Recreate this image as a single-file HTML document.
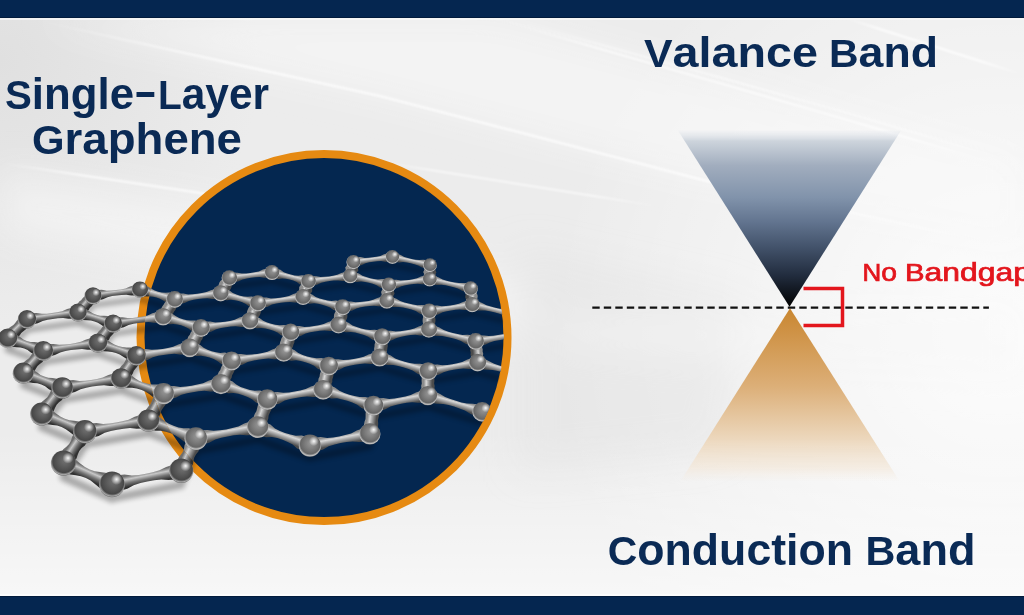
<!DOCTYPE html>
<html><head><meta charset="utf-8"><style>
html,body{margin:0;padding:0;}
body{width:1024px;height:615px;overflow:hidden;position:relative;background:#eeeeee;font-family:"Liberation Sans",sans-serif;}
svg{position:absolute;left:0;top:0;}
</style></head><body>
<svg width="1024" height="615" viewBox="0 0 1024 615">
<defs>
<linearGradient id="bg" x1="0" y1="0" x2="0" y2="1">
<stop offset="0" stop-color="#e8e8e8"/><stop offset="0.5" stop-color="#ebebeb"/><stop offset="1" stop-color="#f3f3f3"/>
</linearGradient>
<radialGradient id="atom" cx="0.5" cy="0.45" r="0.55" fx="0.58" fy="0.38">
<stop offset="0" stop-color="#9a9a9a"/><stop offset="0.5" stop-color="#7a7a7a"/><stop offset="0.8" stop-color="#666"/><stop offset="0.93" stop-color="#c0c0c0"/><stop offset="1" stop-color="#909090"/>
</radialGradient>
<radialGradient id="atomd" cx="0.5" cy="0.45" r="0.55" fx="0.58" fy="0.38">
<stop offset="0" stop-color="#747474"/><stop offset="0.5" stop-color="#585858"/><stop offset="0.8" stop-color="#474747"/><stop offset="0.93" stop-color="#a8a8a8"/><stop offset="1" stop-color="#6a6a6a"/>
</radialGradient>
<radialGradient id="hl" cx="0.68" cy="0.3" r="0.22">
<stop offset="0" stop-color="#fff" stop-opacity="0.95"/><stop offset="1" stop-color="#fff" stop-opacity="0"/>
</radialGradient>
<linearGradient id="vcone" x1="0" y1="0" x2="0" y2="1">
<stop offset="0" stop-color="#e4e8ee" stop-opacity="0.2"/><stop offset="0.06" stop-color="#cdd4dc"/><stop offset="0.2" stop-color="#a1adbe"/><stop offset="0.38" stop-color="#8193ab"/><stop offset="0.52" stop-color="#62748f"/><stop offset="0.66" stop-color="#43536b"/><stop offset="0.82" stop-color="#222d3f"/><stop offset="0.95" stop-color="#0a0d12"/><stop offset="1" stop-color="#000"/>
</linearGradient>
<linearGradient id="ccone" x1="0" y1="0" x2="0" y2="1">
<stop offset="0" stop-color="#c98630"/><stop offset="0.45" stop-color="#dcaf78"/><stop offset="0.75" stop-color="#ecd7bc"/><stop offset="0.92" stop-color="#f3e8da" stop-opacity="0.7"/><stop offset="1" stop-color="#f6eee4" stop-opacity="0"/>
</linearGradient>
<radialGradient id="wr" gradientUnits="userSpaceOnUse" cx="1000" cy="330" r="450"><stop offset="0" stop-color="#fff" stop-opacity="0.9"/><stop offset="1" stop-color="#fff" stop-opacity="0"/></radialGradient>
<linearGradient id="wb" gradientUnits="userSpaceOnUse" x1="0" y1="430" x2="0" y2="596"><stop offset="0" stop-color="#fff" stop-opacity="0"/><stop offset="1" stop-color="#fff" stop-opacity="0.6"/></linearGradient>
<radialGradient id="gl" gradientUnits="userSpaceOnUse" cx="0" cy="60" r="260"><stop offset="0" stop-color="#d8d8d8" stop-opacity="0.6"/><stop offset="1" stop-color="#d8d8d8" stop-opacity="0"/></radialGradient>
<linearGradient id="fadeL" x1="0" y1="0" x2="1" y2="0"><stop offset="0" stop-color="#fff" stop-opacity="0"/><stop offset="0.2" stop-color="#fff" stop-opacity="0.85"/><stop offset="0.75" stop-color="#fff" stop-opacity="0.85"/><stop offset="1" stop-color="#fff" stop-opacity="0"/></linearGradient>
<filter id="bgblur" x="-10%" y="-10%" width="120%" height="120%"><feGaussianBlur stdDeviation="18"/></filter><filter id="lblur"><feGaussianBlur stdDeviation="1.2"/></filter>
<filter id="blur" x="-20%" y="-20%" width="140%" height="140%"><feGaussianBlur stdDeviation="2.5"/></filter>
<clipPath id="lclip"><circle cx="324" cy="337.6" r="180.0"/><rect x="0" y="0" width="250" height="615"/></clipPath>
<clipPath id="rclip"><rect x="0" y="0" width="250" height="615"/></clipPath>
<clipPath id="inclip"><circle cx="324" cy="337.6" r="180.0"/></clipPath>
<clipPath id="outclip"><path clip-rule="evenodd" d="M0,0H1024V615H0Z M144.0,337.6 a180.0,180.0 0 1,0 360.0,0 a180.0,180.0 0 1,0 -360.0,0Z"/></clipPath>
</defs>
<rect width="1024" height="615" fill="#ececec"/>
<rect width="1024" height="615" fill="url(#wr)"/>
<rect width="1024" height="615" fill="url(#wb)"/>
<rect width="1024" height="615" fill="url(#gl)"/>
<g filter="url(#bgblur)">
<polygon points="150,18 493,18 1024,160 1024,250 707,181 380,96 35,20" fill="#fafafa" opacity="0.55"/>
<polygon points="0,170 200,200 430,245 560,300 540,340 0,235" fill="#f7f7f7" opacity="0.6"/>
<polygon points="520,250 740,300 720,450 520,470" fill="#e2e2e2" opacity="0.45"/>
<polygon points="560,320 1024,300 1024,380 560,345" fill="#f8f8f8" opacity="0.5"/>
</g>
<g fill="none" filter="url(#lblur)">
<polyline points="35,20 380,96 707,181 1024,250" stroke="url(#fadeL)" stroke-width="2.2"/>
<polyline points="493,18 820,112 1024,172" stroke="url(#fadeL)" stroke-width="1.6"/>
<polyline points="505,18 830,108 1024,165" stroke="url(#fadeL)" stroke-width="1.2"/>
<polyline points="845,18 1024,75" stroke="url(#fadeL)" stroke-width="2"/>
<polyline points="0,163 200,193 430,240" stroke="url(#fadeL)" stroke-width="2"/>
<polyline points="380,162 663,207" stroke="url(#fadeL)" stroke-width="1.5"/>
</g>
<rect x="0" y="0" width="1024" height="18" fill="#052650"/><rect x="0" y="17" width="1024" height="1" fill="#021b3c"/><rect x="0" y="18" width="1024" height="2" fill="#fafafa" opacity="0.7"/>
<rect x="0" y="596" width="1024" height="19" fill="#052650"/><rect x="0" y="596" width="1024" height="1" fill="#021b3c"/><rect x="0" y="594" width="1024" height="2" fill="#fcfcfc" opacity="0.8"/>
<text x="5.00" y="109.3" font-family="Liberation Sans" font-weight="bold" font-size="40" fill="#0a2a55" textLength="129.00" lengthAdjust="spacingAndGlyphs">S<tspan font-size="43.60">ingle</tspan></text>
<text x="158.00" y="109.3" font-family="Liberation Sans" font-weight="bold" font-size="40" fill="#0a2a55" textLength="111.00" lengthAdjust="spacingAndGlyphs">L<tspan font-size="43.60">ayer</tspan></text>
<text x="32.00" y="154.0" font-family="Liberation Sans" font-weight="bold" font-size="40" fill="#0a2a55" textLength="210.00" lengthAdjust="spacingAndGlyphs">G<tspan font-size="43.60">raphene</tspan></text>
<text x="644.00" y="67.2" font-family="Liberation Sans" font-weight="bold" font-size="39" fill="#0a2a55" textLength="174.00" lengthAdjust="spacingAndGlyphs">V<tspan font-size="42.51">alance</tspan></text>
<text x="829.00" y="67.2" font-family="Liberation Sans" font-weight="bold" font-size="39" fill="#0a2a55" textLength="109.00" lengthAdjust="spacingAndGlyphs">B<tspan font-size="42.51">and</tspan></text>
<text x="607.75" y="565.3" font-family="Liberation Sans" font-weight="bold" font-size="40" fill="#0a2a55" textLength="245.25" lengthAdjust="spacingAndGlyphs">C<tspan font-size="43.60">onduction</tspan></text>
<text x="865.50" y="565.3" font-family="Liberation Sans" font-weight="bold" font-size="40" fill="#0a2a55" textLength="110.00" lengthAdjust="spacingAndGlyphs">B<tspan font-size="43.60">and</tspan></text>
<text x="862.50" y="280.7" font-family="Liberation Sans" font-size="23" fill="#e3161d" stroke="#e3161d" stroke-width="0.7" textLength="34.50" lengthAdjust="spacingAndGlyphs">N<tspan font-size="25.07">o</tspan></text>
<text x="905.00" y="280.7" font-family="Liberation Sans" font-size="23" fill="#e3161d" stroke="#e3161d" stroke-width="0.7" textLength="126.00" lengthAdjust="spacingAndGlyphs">B<tspan font-size="25.07">andgap</tspan></text>
<rect x="136.5" y="92" width="17.8" height="5" fill="#0a2a55"/>
<circle cx="324" cy="337.6" r="183.5" fill="#042750" stroke="#e68a12" stroke-width="8"/>
<g clip-path="url(#inclip)">
<g stroke="#000" stroke-linecap="round" opacity="0.3" filter="url(#blur)"><line x1="373.5" y1="416.7" x2="427.8" y2="406.7" stroke-width="6.1"/><line x1="373.5" y1="416.9" x2="323.1" y2="401.0" stroke-width="6.2"/><line x1="373.5" y1="417.3" x2="369.9" y2="445.5" stroke-width="6.4"/><line x1="308.4" y1="290.3" x2="303.0" y2="305.8" stroke-width="4.8"/><line x1="308.4" y1="290.1" x2="272.0" y2="281.1" stroke-width="4.7"/><line x1="308.4" y1="290.0" x2="350.2" y2="284.4" stroke-width="4.6"/><line x1="382.2" y1="346.3" x2="428.9" y2="338.9" stroke-width="5.2"/><line x1="382.2" y1="346.8" x2="379.6" y2="367.4" stroke-width="5.4"/><line x1="382.2" y1="346.5" x2="338.5" y2="334.7" stroke-width="5.3"/><line x1="303.0" y1="306.2" x2="257.9" y2="312.5" stroke-width="5.0"/><line x1="303.0" y1="306.1" x2="342.7" y2="316.3" stroke-width="5.0"/><line x1="482.2" y1="422.7" x2="427.8" y2="406.5" stroke-width="6.0"/><line x1="267.3" y1="411.1" x2="220.9" y2="395.6" stroke-width="6.3"/><line x1="267.3" y1="411.0" x2="323.1" y2="401.2" stroke-width="6.2"/><line x1="267.3" y1="411.6" x2="257.7" y2="439.1" stroke-width="6.6"/><line x1="272.0" y1="281.2" x2="229.4" y2="286.7" stroke-width="4.7"/><line x1="113.1" y1="334.2" x2="97.8" y2="353.6" stroke-width="5.8"/><line x1="113.1" y1="333.7" x2="163.1" y2="326.8" stroke-width="5.5"/><line x1="113.1" y1="333.8" x2="77.9" y2="322.8" stroke-width="5.6"/><line x1="388.8" y1="293.4" x2="350.2" y2="284.3" stroke-width="4.6"/><line x1="388.8" y1="293.3" x2="429.7" y2="287.6" stroke-width="4.5"/><line x1="388.8" y1="293.6" x2="386.8" y2="309.4" stroke-width="4.7"/><line x1="93.0" y1="305.2" x2="139.9" y2="299.2" stroke-width="5.2"/><line x1="93.0" y1="305.6" x2="77.9" y2="322.4" stroke-width="5.4"/><line x1="220.9" y1="395.2" x2="231.5" y2="372.0" stroke-width="6.1"/><line x1="220.9" y1="395.8" x2="163.6" y2="405.3" stroke-width="6.4"/><line x1="353.5" y1="270.2" x2="350.2" y2="284.1" stroke-width="4.5"/><line x1="353.5" y1="269.9" x2="392.4" y2="264.9" stroke-width="4.3"/><line x1="328.8" y1="376.4" x2="379.6" y2="367.9" stroke-width="5.7"/><line x1="328.8" y1="376.9" x2="323.1" y2="400.6" stroke-width="5.9"/><line x1="328.8" y1="376.5" x2="283.7" y2="363.1" stroke-width="5.7"/><line x1="470.7" y1="297.0" x2="472.2" y2="313.1" stroke-width="4.6"/><line x1="470.7" y1="296.8" x2="429.7" y2="287.5" stroke-width="4.5"/><line x1="97.8" y1="354.1" x2="43.3" y2="362.0" stroke-width="6.1"/><line x1="97.8" y1="354.0" x2="136.4" y2="366.8" stroke-width="6.0"/><line x1="43.3" y1="362.6" x2="23.3" y2="384.7" stroke-width="6.4"/><line x1="43.3" y1="362.2" x2="7.7" y2="349.6" stroke-width="6.1"/><line x1="174.7" y1="309.2" x2="163.1" y2="326.3" stroke-width="5.3"/><line x1="174.7" y1="308.9" x2="139.9" y2="299.1" stroke-width="5.2"/><line x1="174.7" y1="308.8" x2="220.7" y2="302.6" stroke-width="5.1"/><line x1="231.5" y1="371.6" x2="189.7" y2="358.5" stroke-width="5.9"/><line x1="231.5" y1="371.5" x2="283.7" y2="363.2" stroke-width="5.8"/><line x1="309.9" y1="457.9" x2="369.9" y2="446.1" stroke-width="6.7"/><line x1="309.9" y1="458.0" x2="257.7" y2="439.5" stroke-width="6.8"/><line x1="521.1" y1="342.7" x2="517.3" y2="324.2" stroke-width="4.9"/><line x1="521.1" y1="343.1" x2="475.7" y2="350.7" stroke-width="5.1"/><line x1="189.7" y1="358.1" x2="201.0" y2="338.3" stroke-width="5.7"/><line x1="189.7" y1="358.6" x2="136.4" y2="366.7" stroke-width="5.9"/><line x1="477.6" y1="372.5" x2="529.8" y2="386.6" stroke-width="5.5"/><line x1="477.6" y1="372.2" x2="475.7" y2="351.1" stroke-width="5.3"/><line x1="477.6" y1="372.7" x2="428.2" y2="381.4" stroke-width="5.5"/><line x1="290.7" y1="342.2" x2="249.9" y2="330.6" stroke-width="5.4"/><line x1="290.7" y1="342.1" x2="338.5" y2="334.8" stroke-width="5.3"/><line x1="290.7" y1="342.5" x2="283.7" y2="362.7" stroke-width="5.6"/><line x1="63.5" y1="476.8" x2="84.9" y2="445.4" stroke-width="7.5"/><line x1="63.5" y1="477.4" x2="112.0" y2="498.7" stroke-width="7.8"/><line x1="472.2" y1="313.3" x2="517.3" y2="323.9" stroke-width="4.7"/><line x1="472.2" y1="313.4" x2="429.2" y2="320.0" stroke-width="4.8"/><line x1="249.9" y1="330.3" x2="257.9" y2="312.9" stroke-width="5.2"/><line x1="249.9" y1="330.7" x2="201.0" y2="337.9" stroke-width="5.4"/><line x1="428.9" y1="338.8" x2="475.7" y2="350.8" stroke-width="5.1"/><line x1="428.9" y1="338.5" x2="429.2" y2="320.3" stroke-width="5.0"/><line x1="163.1" y1="326.6" x2="201.0" y2="338.0" stroke-width="5.5"/><line x1="41.6" y1="427.2" x2="84.9" y2="444.8" stroke-width="7.2"/><line x1="41.6" y1="426.7" x2="62.3" y2="400.5" stroke-width="6.9"/><line x1="148.3" y1="433.5" x2="84.9" y2="444.6" stroke-width="7.1"/><line x1="148.3" y1="433.3" x2="195.9" y2="451.3" stroke-width="7.0"/><line x1="148.3" y1="432.8" x2="163.6" y2="406.0" stroke-width="6.7"/><line x1="427.8" y1="406.1" x2="428.2" y2="381.9" stroke-width="5.8"/><line x1="229.4" y1="287.1" x2="220.7" y2="302.3" stroke-width="4.9"/><line x1="257.9" y1="312.6" x2="220.7" y2="302.5" stroke-width="5.1"/><line x1="430.0" y1="273.0" x2="392.4" y2="264.8" stroke-width="4.3"/><line x1="430.0" y1="273.2" x2="429.7" y2="287.3" stroke-width="4.4"/><line x1="342.7" y1="316.6" x2="338.5" y2="334.4" stroke-width="5.1"/><line x1="342.7" y1="316.2" x2="386.8" y2="309.8" stroke-width="4.9"/><line x1="77.9" y1="322.8" x2="27.0" y2="329.7" stroke-width="5.7"/><line x1="27.0" y1="330.2" x2="7.7" y2="349.2" stroke-width="5.9"/><line x1="195.9" y1="451.9" x2="181.2" y2="484.1" stroke-width="7.3"/><line x1="195.9" y1="451.2" x2="257.7" y2="439.7" stroke-width="6.9"/><line x1="121.0" y1="390.5" x2="62.3" y2="399.9" stroke-width="6.5"/><line x1="121.0" y1="390.4" x2="163.6" y2="405.5" stroke-width="6.5"/><line x1="121.0" y1="389.9" x2="136.4" y2="367.3" stroke-width="6.2"/><line x1="62.3" y1="400.0" x2="23.3" y2="385.2" stroke-width="6.6"/><line x1="181.2" y1="484.9" x2="112.0" y2="498.5" stroke-width="7.8"/><line x1="379.6" y1="367.8" x2="428.2" y2="381.5" stroke-width="5.6"/><line x1="429.2" y1="320.1" x2="386.8" y2="309.7" stroke-width="4.8"/></g>
<defs><linearGradient id="Lg"><stop offset="0" stop-color="#8c8c8c"/><stop offset="0.3" stop-color="#d8d8d8"/><stop offset="0.62" stop-color="#969696"/><stop offset="1" stop-color="#4c4c4c"/></linearGradient><linearGradient id="L27" gradientUnits="userSpaceOnUse" x1="372.5" y1="256.5" x2="373.3" y2="262.6" href="#Lg"/><linearGradient id="L71" gradientUnits="userSpaceOnUse" x1="411.8" y1="258.1" x2="410.5" y2="264.1" href="#Lg"/><linearGradient id="L26" gradientUnits="userSpaceOnUse" x1="348.7" y1="268.2" x2="355.0" y2="269.7" href="#Lg"/><linearGradient id="L72" gradientUnits="userSpaceOnUse" x1="426.7" y1="272.2" x2="433.0" y2="272.3" href="#Lg"/><linearGradient id="L15" gradientUnits="userSpaceOnUse" x1="250.3" y1="272.0" x2="251.1" y2="278.7" href="#Lg"/><linearGradient id="L4" gradientUnits="userSpaceOnUse" x1="291.0" y1="273.8" x2="289.4" y2="280.3" href="#Lg"/><linearGradient id="L5" gradientUnits="userSpaceOnUse" x1="328.8" y1="275.4" x2="329.7" y2="282.0" href="#Lg"/><linearGradient id="L19" gradientUnits="userSpaceOnUse" x1="370.3" y1="277.3" x2="368.7" y2="283.7" href="#Lg"/><linearGradient id="L20" gradientUnits="userSpaceOnUse" x1="408.8" y1="278.9" x2="409.7" y2="285.4" href="#Lg"/><linearGradient id="L32" gradientUnits="userSpaceOnUse" x1="450.9" y1="280.8" x2="449.5" y2="287.1" href="#Lg"/><linearGradient id="L69" gradientUnits="userSpaceOnUse" x1="222.0" y1="284.0" x2="228.1" y2="287.5" href="#Lg"/><linearGradient id="L3" gradientUnits="userSpaceOnUse" x1="302.4" y1="288.2" x2="309.0" y2="290.4" href="#Lg"/><linearGradient id="L22" gradientUnits="userSpaceOnUse" x1="116.0" y1="289.0" x2="117.0" y2="296.4" href="#Lg"/><linearGradient id="L21" gradientUnits="userSpaceOnUse" x1="384.5" y1="292.5" x2="391.2" y2="293.4" href="#Lg"/><linearGradient id="L38" gradientUnits="userSpaceOnUse" x1="158.3" y1="291.1" x2="156.3" y2="298.2" href="#Lg"/><linearGradient id="L39" gradientUnits="userSpaceOnUse" x1="197.2" y1="292.8" x2="198.2" y2="300.1" href="#Lg"/><linearGradient id="L31" gradientUnits="userSpaceOnUse" x1="474.8" y1="296.3" x2="468.2" y2="297.0" href="#Lg"/><linearGradient id="L70" gradientUnits="userSpaceOnUse" x1="240.3" y1="294.9" x2="238.4" y2="301.9" href="#Lg"/><linearGradient id="L9" gradientUnits="userSpaceOnUse" x1="280.0" y1="296.7" x2="281.0" y2="303.8" href="#Lg"/><linearGradient id="L10" gradientUnits="userSpaceOnUse" x1="323.7" y1="298.7" x2="322.0" y2="305.6" href="#Lg"/><linearGradient id="L74" gradientUnits="userSpaceOnUse" x1="364.3" y1="300.6" x2="365.3" y2="307.6" href="#Lg"/><linearGradient id="L23" gradientUnits="userSpaceOnUse" x1="82.6" y1="301.6" x2="88.4" y2="306.8" href="#Lg"/><linearGradient id="L85" gradientUnits="userSpaceOnUse" x1="408.8" y1="302.7" x2="407.2" y2="309.4" href="#Lg"/><linearGradient id="L57" gradientUnits="userSpaceOnUse" x1="450.2" y1="304.6" x2="451.2" y2="311.4" href="#Lg"/><linearGradient id="L37" gradientUnits="userSpaceOnUse" x1="165.7" y1="306.0" x2="172.0" y2="310.3" href="#Lg"/><linearGradient id="L56" gradientUnits="userSpaceOnUse" x1="495.6" y1="306.7" x2="494.0" y2="313.3" href="#Lg"/><linearGradient id="L58" gradientUnits="userSpaceOnUse" x1="250.5" y1="310.5" x2="257.3" y2="313.7" href="#Lg"/><linearGradient id="L75" gradientUnits="userSpaceOnUse" x1="51.9" y1="312.0" x2="53.0" y2="320.0" href="#Lg"/><linearGradient id="L73" gradientUnits="userSpaceOnUse" x1="337.0" y1="315.4" x2="344.2" y2="317.0" href="#Lg"/><linearGradient id="L18" gradientUnits="userSpaceOnUse" x1="96.7" y1="314.3" x2="94.3" y2="322.0" href="#Lg"/><linearGradient id="L17" gradientUnits="userSpaceOnUse" x1="137.5" y1="316.2" x2="138.6" y2="324.1" href="#Lg"/><linearGradient id="L61" gradientUnits="userSpaceOnUse" x1="425.4" y1="320.3" x2="432.6" y2="320.4" href="#Lg"/><linearGradient id="L62" gradientUnits="userSpaceOnUse" x1="183.2" y1="318.5" x2="180.9" y2="326.1" href="#Lg"/><linearGradient id="L59" gradientUnits="userSpaceOnUse" x1="224.9" y1="320.5" x2="226.0" y2="328.3" href="#Lg"/><linearGradient id="L44" gradientUnits="userSpaceOnUse" x1="522.6" y1="323.9" x2="515.8" y2="325.3" href="#Lg"/><linearGradient id="L51" gradientUnits="userSpaceOnUse" x1="271.4" y1="322.9" x2="269.3" y2="330.3" href="#Lg"/><linearGradient id="L52" gradientUnits="userSpaceOnUse" x1="314.0" y1="325.0" x2="315.2" y2="332.5" href="#Lg"/><linearGradient id="L76" gradientUnits="userSpaceOnUse" x1="14.4" y1="325.9" x2="20.3" y2="331.9" href="#Lg"/><linearGradient id="L8" gradientUnits="userSpaceOnUse" x1="361.3" y1="327.4" x2="359.4" y2="334.7" href="#Lg"/><linearGradient id="L6" gradientUnits="userSpaceOnUse" x1="405.0" y1="329.5" x2="406.1" y2="336.9" href="#Lg"/><linearGradient id="L16" gradientUnits="userSpaceOnUse" x1="102.2" y1="330.8" x2="108.7" y2="335.9" href="#Lg"/><linearGradient id="L60" gradientUnits="userSpaceOnUse" x1="453.2" y1="331.9" x2="451.4" y2="339.0" href="#Lg"/><linearGradient id="L45" gradientUnits="userSpaceOnUse" x1="497.8" y1="334.1" x2="499.0" y2="341.3" href="#Lg"/><linearGradient id="L46" gradientUnits="userSpaceOnUse" x1="191.8" y1="335.9" x2="198.9" y2="339.9" href="#Lg"/><linearGradient id="L53" gradientUnits="userSpaceOnUse" x1="283.4" y1="341.2" x2="290.9" y2="343.8" href="#Lg"/><linearGradient id="L36" gradientUnits="userSpaceOnUse" x1="27.0" y1="340.6" x2="24.0" y2="348.9" href="#Lg"/><linearGradient id="L33" gradientUnits="userSpaceOnUse" x1="69.9" y1="342.7" x2="71.2" y2="351.4" href="#Lg"/><linearGradient id="L7" gradientUnits="userSpaceOnUse" x1="377.1" y1="346.7" x2="384.8" y2="347.7" href="#Lg"/><linearGradient id="L34" gradientUnits="userSpaceOnUse" x1="118.4" y1="345.4" x2="115.7" y2="353.6" href="#Lg"/><linearGradient id="L47" gradientUnits="userSpaceOnUse" x1="162.4" y1="347.6" x2="163.7" y2="356.1" href="#Lg"/><linearGradient id="L49" gradientUnits="userSpaceOnUse" x1="480.4" y1="351.7" x2="472.9" y2="352.4" href="#Lg"/><linearGradient id="L40" gradientUnits="userSpaceOnUse" x1="211.9" y1="350.4" x2="209.4" y2="358.4" href="#Lg"/><linearGradient id="L41" gradientUnits="userSpaceOnUse" x1="256.9" y1="352.7" x2="258.2" y2="360.9" href="#Lg"/><linearGradient id="L30" gradientUnits="userSpaceOnUse" x1="307.4" y1="355.4" x2="305.0" y2="363.3" href="#Lg"/><linearGradient id="L28" gradientUnits="userSpaceOnUse" x1="353.5" y1="357.8" x2="354.9" y2="365.9" href="#Lg"/><linearGradient id="L35" gradientUnits="userSpaceOnUse" x1="29.9" y1="359.0" x2="36.7" y2="365.2" href="#Lg"/><linearGradient id="L84" gradientUnits="userSpaceOnUse" x1="405.0" y1="360.6" x2="402.8" y2="368.3" href="#Lg"/><linearGradient id="L50" gradientUnits="userSpaceOnUse" x1="452.2" y1="363.1" x2="453.6" y2="370.9" href="#Lg"/><linearGradient id="L81" gradientUnits="userSpaceOnUse" x1="125.0" y1="364.8" x2="132.4" y2="369.8" href="#Lg"/><linearGradient id="L48" gradientUnits="userSpaceOnUse" x1="504.7" y1="365.9" x2="502.7" y2="373.4" href="#Lg"/><linearGradient id="L24" gradientUnits="userSpaceOnUse" x1="222.2" y1="370.7" x2="230.2" y2="374.4" href="#Lg"/><linearGradient id="L29" gradientUnits="userSpaceOnUse" x1="321.8" y1="377.0" x2="330.1" y2="378.9" href="#Lg"/><linearGradient id="L82" gradientUnits="userSpaceOnUse" x1="44.5" y1="376.1" x2="41.1" y2="385.0" href="#Lg"/><linearGradient id="L79" gradientUnits="userSpaceOnUse" x1="90.9" y1="378.6" x2="92.4" y2="387.9" href="#Lg"/><linearGradient id="L68" gradientUnits="userSpaceOnUse" x1="423.8" y1="383.4" x2="432.1" y2="383.5" href="#Lg"/><linearGradient id="L80" gradientUnits="userSpaceOnUse" x1="143.8" y1="381.8" x2="140.7" y2="390.5" href="#Lg"/><linearGradient id="L25" gradientUnits="userSpaceOnUse" x1="191.5" y1="384.4" x2="193.0" y2="393.5" href="#Lg"/><linearGradient id="L12" gradientUnits="userSpaceOnUse" x1="245.5" y1="387.6" x2="242.7" y2="396.2" href="#Lg"/><linearGradient id="L13" gradientUnits="userSpaceOnUse" x1="294.4" y1="390.3" x2="296.0" y2="399.1" href="#Lg"/><linearGradient id="L1" gradientUnits="userSpaceOnUse" x1="349.6" y1="393.5" x2="347.0" y2="402.0" href="#Lg"/><linearGradient id="L0" gradientUnits="userSpaceOnUse" x1="399.8" y1="396.4" x2="401.4" y2="404.9" href="#Lg"/><linearGradient id="L64" gradientUnits="userSpaceOnUse" x1="48.1" y1="398.0" x2="55.8" y2="404.1" href="#Lg"/><linearGradient id="L11" gradientUnits="userSpaceOnUse" x1="456.2" y1="399.6" x2="453.8" y2="407.9" href="#Lg"/><linearGradient id="L67" gradientUnits="userSpaceOnUse" x1="151.8" y1="404.8" x2="160.2" y2="409.5" href="#Lg"/><linearGradient id="L14" gradientUnits="userSpaceOnUse" x1="258.1" y1="411.8" x2="267.0" y2="414.9" href="#Lg"/><linearGradient id="L2" gradientUnits="userSpaceOnUse" x1="367.1" y1="419.2" x2="376.2" y2="420.4" href="#Lg"/><linearGradient id="L63" gradientUnits="userSpaceOnUse" x1="65.2" y1="418.2" x2="61.3" y2="427.7" href="#Lg"/><linearGradient id="L65" gradientUnits="userSpaceOnUse" x1="115.7" y1="421.1" x2="117.5" y2="431.2" href="#Lg"/><linearGradient id="L66" gradientUnits="userSpaceOnUse" x1="173.9" y1="424.9" x2="170.4" y2="434.3" href="#Lg"/><linearGradient id="L78" gradientUnits="userSpaceOnUse" x1="225.9" y1="428.0" x2="227.7" y2="437.7" href="#Lg"/><linearGradient id="L43" gradientUnits="userSpaceOnUse" x1="285.4" y1="431.8" x2="282.2" y2="441.0" href="#Lg"/><linearGradient id="L42" gradientUnits="userSpaceOnUse" x1="339.0" y1="435.0" x2="340.8" y2="444.5" href="#Lg"/><linearGradient id="L54" gradientUnits="userSpaceOnUse" x1="69.8" y1="444.4" x2="78.7" y2="450.5" href="#Lg"/><linearGradient id="L77" gradientUnits="userSpaceOnUse" x1="183.8" y1="452.5" x2="193.3" y2="456.9" href="#Lg"/><linearGradient id="L55" gradientUnits="userSpaceOnUse" x1="90.1" y1="468.6" x2="85.5" y2="478.9" href="#Lg"/><linearGradient id="L83" gradientUnits="userSpaceOnUse" x1="145.5" y1="472.2" x2="147.7" y2="483.1" href="#Lg"/></defs>
<g><path d="M352.9,257.7 356.8,257.2 360.7,257.1 364.8,257.9 368.7,257.7 372.6,257.3 376.5,256.8 380.4,255.9 384.1,254.3 388.0,253.3 391.8,252.8 392.9,261.2 389.0,261.8 385.1,261.7 381.1,261.1 377.1,261.3 373.2,261.7 369.3,262.3 365.5,263.2 361.8,265.0 357.9,265.9 354.0,266.4Z" fill="url(#L27)"/><path d="M430.9,261.0 427.1,260.2 423.3,259.8 419.3,260.1 415.4,259.7 411.6,259.0 407.9,258.1 404.2,256.9 400.7,254.9 397.1,253.7 393.3,252.8 391.5,261.2 395.2,262.0 399.1,262.4 403.1,262.1 406.9,262.5 410.7,263.3 414.4,264.2 418.1,265.4 421.6,267.3 425.3,268.6 429.0,269.4Z" fill="url(#L71)"/><path d="M348.8,261.0 348.3,262.3 347.7,263.6 347.0,264.9 346.2,266.2 345.2,267.4 345.6,269.0 345.8,270.5 345.7,271.9 345.6,273.4 345.4,274.8 354.9,277.1 355.4,275.7 355.9,274.4 356.6,273.1 357.4,271.8 358.4,270.6 358.1,269.0 357.9,267.5 357.9,266.0 358.0,264.6 358.1,263.2Z" fill="url(#L26)"/><path d="M425.3,265.1 425.1,266.5 424.8,267.9 424.4,269.3 423.9,270.7 423.2,272.1 423.9,273.6 424.4,275.0 424.7,276.4 424.8,277.8 425.0,279.2 434.5,279.4 434.6,278.0 434.9,276.6 435.2,275.2 435.7,273.8 436.4,272.4 435.8,270.9 435.3,269.5 435.0,268.1 434.8,266.7 434.6,265.3Z" fill="url(#L72)"/><path d="M271.4,268.0 267.2,268.5 263.0,269.6 258.9,271.4 254.6,272.3 250.4,273.0 246.1,273.4 241.8,273.5 237.3,272.7 233.0,272.8 228.8,273.3 230.0,282.9 234.3,282.3 238.5,281.3 242.6,279.4 246.8,278.4 251.0,277.8 255.3,277.3 259.6,277.1 264.0,277.8 268.4,277.8 272.6,277.2Z" fill="url(#L15)"/><path d="M309.5,277.0 305.9,276.1 302.2,275.2 298.3,275.7 294.5,275.4 290.8,274.6 287.2,273.6 283.7,272.2 280.4,269.8 276.8,269.0 273.1,268.1 270.9,277.1 274.5,278.0 278.2,278.9 282.2,278.4 285.9,278.8 289.6,279.5 293.2,280.6 296.7,282.0 300.0,284.4 303.6,285.2 307.3,286.1Z" fill="url(#L4)"/><path d="M307.8,276.9 311.9,276.3 316.2,276.2 320.5,277.0 324.8,276.8 329.0,276.4 333.1,275.7 337.3,274.8 341.3,273.1 345.4,271.9 349.6,271.4 350.8,280.5 346.6,281.0 342.4,281.0 338.0,280.4 333.8,280.6 329.6,281.1 325.4,281.8 321.3,282.8 317.3,284.6 313.2,285.7 309.0,286.2Z" fill="url(#L5)"/><path d="M389.9,280.5 386.0,279.6 382.1,279.0 377.9,279.4 373.9,279.0 370.1,278.2 366.2,277.1 362.4,275.8 358.9,273.6 355.1,272.4 351.2,271.5 349.1,280.4 353.0,281.3 356.9,281.9 361.1,281.5 365.1,282.0 369.0,282.8 372.8,283.8 376.6,285.2 380.1,287.4 383.9,288.6 387.8,289.5Z" fill="url(#L19)"/><path d="M388.2,280.5 392.3,279.9 396.4,279.8 400.7,280.5 404.8,280.3 409.0,279.9 413.0,279.2 417.1,278.3 421.0,276.6 425.0,275.4 429.1,274.9 430.3,283.8 426.3,284.3 422.1,284.3 417.8,283.8 413.7,284.0 409.6,284.5 405.5,285.2 401.5,286.2 397.6,288.0 393.6,289.1 389.5,289.6Z" fill="url(#L20)"/><path d="M471.7,284.2 467.6,283.3 463.4,282.9 459.0,283.1 454.9,282.6 450.7,281.7 446.6,280.7 442.6,279.5 438.8,277.4 434.8,275.9 430.7,274.9 428.7,283.7 432.8,284.6 437.1,284.9 441.4,284.7 445.6,285.3 449.7,286.2 453.8,287.2 457.8,288.5 461.7,290.6 465.6,292.1 469.7,293.0Z" fill="url(#L32)"/><path d="M225.0,275.6 224.0,277.1 222.9,278.5 221.8,279.8 220.4,281.1 219.4,282.5 218.8,284.2 218.3,285.9 217.6,287.6 216.9,289.2 216.2,290.8 225.3,295.9 226.2,294.5 227.3,293.0 228.4,291.7 229.6,290.3 230.7,289.0 231.4,287.3 231.8,285.5 232.4,283.9 233.1,282.2 233.8,280.6Z" fill="url(#L69)"/><path d="M303.6,279.9 302.9,281.4 302.2,282.9 301.3,284.3 300.2,285.7 299.2,287.1 299.2,288.8 299.1,290.5 298.9,292.2 298.5,293.8 298.1,295.4 307.9,298.8 308.5,297.3 309.3,295.8 310.1,294.3 311.1,292.9 312.1,291.6 312.2,289.8 312.2,288.1 312.4,286.4 312.8,284.8 313.1,283.2Z" fill="url(#L3)"/><path d="M92.3,290.5 97.0,289.9 101.8,289.8 106.7,290.7 111.4,290.6 116.1,290.1 120.8,289.4 125.5,288.4 130.0,286.5 134.6,285.2 139.3,284.6 140.6,294.8 135.9,295.4 131.1,295.4 126.3,294.7 121.5,294.9 116.8,295.4 112.1,296.1 107.5,297.2 103.0,299.3 98.4,300.4 93.7,301.0Z" fill="url(#L22)"/><path d="M383.9,284.4 383.6,286.0 383.1,287.5 382.6,289.1 381.8,290.6 381.1,292.1 381.5,293.7 381.8,295.4 381.9,297.0 381.9,298.6 381.8,300.2 391.9,301.5 392.2,299.9 392.6,298.4 393.1,296.8 393.7,295.3 394.5,293.8 394.2,292.2 393.9,290.5 393.7,288.9 393.7,287.3 393.7,285.7Z" fill="url(#L21)"/><path d="M176.1,294.5 172.6,293.5 169.2,292.5 165.4,292.7 161.7,292.5 158.1,291.7 154.7,290.5 151.5,288.8 148.3,286.7 144.8,285.7 141.3,284.8 138.5,294.6 142.0,295.6 145.5,296.6 149.3,296.5 153.0,296.7 156.5,297.5 159.9,298.7 163.2,300.5 166.3,302.6 169.8,303.6 173.3,304.6Z" fill="url(#L38)"/><path d="M174.0,294.4 178.6,293.8 183.3,293.6 188.1,294.5 192.7,294.3 197.4,293.8 201.9,293.1 206.5,292.1 210.9,290.2 215.4,289.0 220.0,288.4 221.4,298.3 216.8,299.0 212.1,299.0 207.3,298.3 202.7,298.5 198.1,299.0 193.5,299.8 188.9,300.9 184.5,303.0 180.0,304.1 175.4,304.7Z" fill="url(#L39)"/><path d="M475.5,288.2 475.8,289.7 476.2,291.3 476.6,292.9 477.3,294.5 477.7,296.1 477.5,297.7 477.2,299.4 477.1,301.0 477.1,302.6 477.1,304.3 467.3,305.2 467.1,303.6 466.7,302.0 466.3,300.4 465.8,298.8 465.2,297.2 465.4,295.6 465.7,293.9 465.9,292.3 466.0,290.7 466.0,289.0Z" fill="url(#L31)"/><path d="M259.2,298.4 255.5,297.4 251.8,296.4 247.7,296.8 243.8,296.5 240.0,295.7 236.4,294.5 232.8,292.9 229.5,290.5 225.7,289.5 222.0,288.5 219.4,298.2 223.1,299.2 226.8,300.2 230.9,299.8 234.8,300.2 238.6,301.1 242.3,302.2 245.8,303.9 249.1,306.3 252.9,307.3 256.6,308.3Z" fill="url(#L70)"/><path d="M302.3,292.2 297.8,292.8 293.4,294.0 289.0,295.9 284.6,297.0 280.1,297.7 275.6,298.2 271.0,298.4 266.3,297.6 261.7,297.7 257.2,298.3 258.6,308.4 263.1,307.8 267.6,306.7 271.9,304.6 276.3,303.5 280.8,302.8 285.3,302.2 289.9,302.0 294.6,302.6 299.2,302.6 303.7,302.0Z" fill="url(#L9)"/><path d="M304.2,292.3 308.2,293.3 312.1,294.5 315.7,297.0 319.6,298.5 323.5,299.6 327.5,300.5 331.6,301.0 336.0,300.5 340.0,301.4 344.0,302.4 341.5,312.1 337.5,311.1 333.6,310.0 330.0,307.4 326.1,305.9 322.2,304.7 318.2,303.8 314.1,303.3 309.7,303.8 305.7,302.9 301.8,301.8Z" fill="url(#L10)"/><path d="M342.0,302.3 346.4,301.7 350.9,301.5 355.5,302.3 360.0,302.1 364.4,301.6 368.8,300.9 373.2,299.8 377.4,298.0 381.7,296.7 386.1,296.1 387.5,305.6 383.1,306.3 378.6,306.3 374.0,305.7 369.6,306.0 365.1,306.6 360.7,307.3 356.4,308.4 352.2,310.5 347.9,311.6 343.5,312.2Z" fill="url(#L74)"/><path d="M89.0,292.1 87.4,293.7 85.8,295.3 84.1,296.8 82.4,298.4 81.1,300.3 79.2,301.6 77.9,303.5 76.6,305.3 75.1,307.0 73.7,308.8 82.1,316.4 83.7,314.7 85.3,313.1 86.9,311.6 88.7,310.1 89.8,308.1 91.5,306.6 92.9,304.8 94.2,302.9 95.6,301.2 97.1,299.4Z" fill="url(#L23)"/><path d="M430.4,306.5 426.1,305.5 421.8,304.9 417.2,305.2 412.9,304.6 408.6,303.6 404.4,302.5 400.2,301.1 396.3,298.7 392.2,297.2 388.0,296.2 385.7,305.5 389.9,306.6 394.3,307.1 398.8,306.9 403.1,307.5 407.4,308.5 411.6,309.6 415.7,311.1 419.7,313.5 423.8,315.0 428.0,316.0Z" fill="url(#L85)"/><path d="M471.5,300.0 467.2,300.7 463.0,301.9 458.9,303.8 454.6,304.8 450.3,305.6 446.0,306.1 441.6,306.3 437.1,305.6 432.8,305.8 428.4,306.4 429.9,316.1 434.2,315.5 438.5,314.3 442.6,312.3 446.8,311.2 451.1,310.4 455.4,309.8 459.8,309.6 464.2,310.1 468.6,310.0 472.9,309.4Z" fill="url(#L57)"/><path d="M170.2,296.5 169.0,298.1 167.6,299.8 166.2,301.3 164.7,302.7 163.7,304.6 162.4,306.2 161.5,308.1 160.5,310.0 159.5,311.7 158.4,313.5 167.7,319.8 168.9,318.2 170.2,316.5 171.6,314.9 173.1,313.5 174.1,311.6 175.4,310.0 176.2,308.1 177.1,306.2 178.1,304.4 179.2,302.6Z" fill="url(#L37)"/><path d="M473.3,300.1 477.8,301.2 482.1,303.1 486.4,305.2 490.8,306.6 495.3,307.7 499.9,308.7 504.4,309.4 509.2,309.4 513.9,309.6 518.4,310.7 516.2,320.0 511.7,318.9 507.4,317.1 503.2,314.9 498.7,313.5 494.2,312.3 489.7,311.3 485.1,310.6 480.4,310.6 475.7,310.4 471.2,309.3Z" fill="url(#L56)"/><path d="M244.9,318.5 245.6,316.7 246.2,314.9 246.8,313.1 247.2,311.1 247.9,309.3 248.7,307.6 250.0,306.1 251.1,304.5 252.1,302.8 253.0,301.1 262.8,305.6 262.1,307.4 261.5,309.2 261.0,311.1 260.7,313.1 259.9,314.9 259.0,316.6 257.8,318.1 256.8,319.8 255.8,321.4 254.9,323.2Z" fill="url(#L58)"/><path d="M77.1,307.0 72.1,307.7 67.1,309.1 62.2,311.2 57.1,312.3 52.0,313.1 46.9,313.7 41.8,313.8 36.4,312.9 31.3,313.0 26.2,313.7 27.7,325.1 32.8,324.5 37.8,323.2 42.7,320.9 47.7,319.7 52.8,318.9 57.9,318.3 63.1,318.0 68.4,318.8 73.5,318.8 78.6,318.1Z" fill="url(#L75)"/><path d="M337.6,306.1 337.0,307.8 336.4,309.5 335.6,311.3 334.7,312.9 334.1,314.6 333.9,316.5 333.9,318.4 333.8,320.2 333.5,322.0 333.2,323.9 343.8,326.4 344.3,324.6 344.9,322.9 345.6,321.2 346.5,319.5 347.2,317.8 347.4,315.9 347.3,314.0 347.4,312.2 347.6,310.3 347.9,308.5Z" fill="url(#L73)"/><path d="M114.8,318.3 111.3,317.1 107.8,316.0 104.0,315.8 100.1,315.7 96.5,314.8 93.1,313.5 89.8,311.5 86.6,309.4 83.1,308.3 79.6,307.2 76.2,317.9 79.7,319.0 83.3,320.1 87.1,320.3 90.9,320.5 94.5,321.4 97.9,322.8 101.1,324.8 104.4,326.9 107.9,328.0 111.4,329.1Z" fill="url(#L18)"/><path d="M112.3,318.0 117.3,317.3 122.4,317.2 127.6,318.1 132.7,317.9 137.7,317.3 142.7,316.6 147.6,315.4 152.4,313.3 157.3,311.9 162.3,311.2 163.8,322.1 158.8,322.8 153.7,322.8 148.5,322.1 143.5,322.4 138.5,323.0 133.5,323.8 128.6,325.0 123.8,327.3 118.9,328.6 113.9,329.3Z" fill="url(#L17)"/><path d="M423.6,329.4 423.5,327.5 423.4,325.7 423.1,323.9 422.7,322.1 422.6,320.3 422.8,318.4 423.3,316.6 423.6,314.8 423.9,313.0 424.1,311.2 434.3,311.4 434.4,313.2 434.6,315.0 434.9,316.8 435.4,318.7 435.5,320.5 435.3,322.3 434.8,324.1 434.5,325.9 434.3,327.7 434.2,329.5Z" fill="url(#L61)"/><path d="M164.6,311.4 168.4,312.5 172.2,313.7 175.6,316.1 179.2,318.0 182.9,319.3 186.8,320.2 190.8,320.6 195.0,320.4 198.8,321.5 202.6,322.7 199.4,333.3 195.6,332.2 191.8,331.1 188.4,328.6 184.9,326.7 181.1,325.3 177.3,324.4 173.3,324.0 169.1,324.2 165.3,323.0 161.5,321.9Z" fill="url(#L62)"/><path d="M249.1,315.5 244.2,316.3 239.5,317.6 234.8,319.7 229.9,320.9 225.1,321.7 220.1,322.2 215.2,322.4 210.1,321.6 205.1,321.8 200.2,322.5 201.8,333.5 206.7,332.8 211.5,331.5 216.2,329.2 221.0,328.0 225.9,327.2 230.8,326.5 235.7,326.3 240.8,326.9 245.8,326.9 250.7,326.1Z" fill="url(#L59)"/><path d="M526.1,332.9 525.8,331.0 525.6,329.1 525.4,327.2 525.4,325.3 524.8,323.5 524.6,321.6 523.8,319.8 523.2,318.0 522.7,316.2 522.2,314.4 512.5,316.3 512.7,318.2 513.0,320.1 513.1,322.0 513.0,323.9 513.6,325.8 513.8,327.7 514.5,329.4 515.1,331.2 515.6,333.1 516.1,334.9Z" fill="url(#L44)"/><path d="M292.2,327.2 288.1,326.0 284.0,324.9 279.5,325.3 275.2,324.8 271.1,323.8 267.1,322.5 263.2,320.7 259.5,318.0 255.4,316.8 251.4,315.7 248.4,326.0 252.5,327.2 256.6,328.3 261.1,327.9 265.4,328.4 269.5,329.4 273.5,330.8 277.4,332.6 281.1,335.3 285.1,336.5 289.2,337.6Z" fill="url(#L51)"/><path d="M289.9,327.0 294.7,326.3 299.5,326.1 304.5,326.9 309.4,326.7 314.2,326.1 319.0,325.2 323.7,324.1 328.2,322.0 332.9,320.7 337.7,319.9 339.3,330.3 334.5,331.0 329.6,331.1 324.6,330.5 319.8,330.8 315.0,331.5 310.2,332.3 305.5,333.5 301.0,335.8 296.3,337.0 291.5,337.8Z" fill="url(#L52)"/><path d="M22.8,315.2 20.9,317.1 18.8,318.9 16.8,320.7 15.2,322.9 13.4,325.0 11.1,326.4 9.0,328.1 7.2,330.1 5.3,332.1 3.4,334.0 12.1,342.8 14.0,340.9 16.0,339.1 18.0,337.3 19.8,335.2 21.3,332.9 23.4,331.2 25.6,329.6 27.4,327.5 29.2,325.5 31.1,323.6Z" fill="url(#L76)"/><path d="M383.6,331.8 379.2,330.6 374.8,329.7 370.0,330.1 365.5,329.4 361.1,328.4 356.7,327.1 352.5,325.4 348.5,322.7 344.2,321.2 339.9,320.0 337.1,330.2 341.5,331.3 346.0,332.2 350.7,331.9 355.2,332.6 359.6,333.7 364.0,335.0 368.2,336.7 372.2,339.4 376.5,340.8 380.9,342.0Z" fill="url(#L8)"/><path d="M381.4,331.7 386.1,330.9 390.8,330.7 395.7,331.4 400.4,331.2 405.1,330.5 409.8,329.7 414.4,328.6 418.8,326.5 423.4,325.1 428.1,324.4 429.7,334.5 425.0,335.3 420.3,335.4 415.4,334.8 410.7,335.1 406.0,335.8 401.3,336.7 396.7,337.9 392.3,340.1 387.7,341.4 383.1,342.1Z" fill="url(#L6)"/><path d="M108.6,320.1 107.0,321.9 105.3,323.8 103.6,325.6 102.0,327.5 100.7,329.6 98.7,331.2 97.3,333.2 96.0,335.3 94.5,337.3 93.0,339.3 102.5,346.8 104.1,344.9 105.8,343.1 107.4,341.2 109.1,339.4 110.2,337.1 111.9,335.3 113.5,333.4 114.8,331.3 116.2,329.3 117.7,327.3Z" fill="url(#L16)"/><path d="M430.2,324.5 434.8,325.7 439.3,327.6 443.7,330.1 448.3,331.7 452.9,333.0 457.6,334.1 462.4,334.9 467.4,334.8 472.3,335.3 477.0,336.5 474.4,346.5 469.7,345.3 465.2,343.4 460.9,340.9 456.3,339.3 451.6,338.0 446.9,336.9 442.1,336.0 437.1,336.1 432.3,335.6 427.6,334.4Z" fill="url(#L60)"/><path d="M520.3,329.0 515.7,329.7 511.3,331.1 507.0,333.1 502.5,334.3 498.0,335.1 493.4,335.8 488.8,336.1 484.0,335.4 479.4,335.6 474.8,336.4 476.5,346.6 481.1,345.8 485.5,344.6 489.8,342.4 494.3,341.1 498.8,340.3 503.4,339.6 508.0,339.2 512.7,339.7 517.4,339.6 521.9,338.8Z" fill="url(#L45)"/><path d="M184.5,344.8 185.6,342.8 186.6,340.8 187.5,338.7 188.3,336.5 189.8,334.7 190.7,332.6 192.1,330.8 193.5,329.0 194.8,327.1 196.0,325.2 206.0,330.8 205.0,332.9 204.0,334.9 203.1,337.1 202.3,339.2 200.9,341.1 200.2,343.2 198.7,345.0 197.4,346.9 196.1,348.8 194.9,350.8Z" fill="url(#L46)"/><path d="M285.4,330.5 284.5,332.5 283.6,334.5 282.6,336.4 281.5,338.3 280.9,340.3 280.1,342.3 279.7,344.5 279.3,346.6 278.7,348.7 278.1,350.7 289.2,354.6 290.0,352.6 290.8,350.6 291.8,348.7 292.9,346.8 293.4,344.7 294.3,342.7 294.5,340.5 294.9,338.4 295.4,336.3 296.0,334.3Z" fill="url(#L53)"/><path d="M45.3,345.2 41.8,343.9 38.2,342.6 34.5,342.0 30.5,341.9 26.8,340.9 23.4,339.4 20.2,337.1 16.9,335.1 13.3,333.9 9.8,332.7 5.7,344.2 9.2,345.4 12.8,346.7 16.6,347.3 20.5,347.5 24.2,348.5 27.6,350.1 30.7,352.5 34.1,354.4 37.6,355.6 41.2,356.9Z" fill="url(#L36)"/><path d="M96.9,337.2 91.5,337.9 86.1,339.5 80.9,341.8 75.5,343.1 70.1,344.0 64.6,344.6 59.1,344.8 53.4,343.9 47.8,344.1 42.4,344.9 44.1,357.2 49.6,356.4 55.0,355.0 60.2,352.4 65.5,351.1 71.0,350.1 76.4,349.4 82.0,349.1 87.6,349.8 93.2,349.8 98.6,349.0Z" fill="url(#L33)"/><path d="M376.8,336.2 376.4,338.3 375.9,340.3 375.3,342.3 374.6,344.3 374.5,346.4 374.1,348.5 374.2,350.6 374.2,352.7 374.1,354.8 373.9,356.9 385.3,358.3 385.6,356.2 386.1,354.2 386.6,352.2 387.2,350.1 387.4,348.1 387.8,346.0 387.6,343.9 387.5,341.8 387.6,339.7 387.7,337.6Z" fill="url(#L7)"/><path d="M99.7,337.4 103.5,338.7 107.4,339.9 110.9,342.4 114.4,344.6 118.2,346.1 122.2,347.1 126.4,347.4 130.6,347.6 134.4,348.9 138.3,350.2 134.4,361.7 130.6,360.4 126.7,359.1 123.2,356.7 119.7,354.5 115.9,352.9 112.0,351.9 107.9,351.5 103.6,351.3 99.8,350.0 95.9,348.7Z" fill="url(#L34)"/><path d="M188.9,342.0 183.5,342.8 178.3,344.4 173.2,346.7 167.9,347.9 162.6,348.9 157.2,349.5 151.8,349.8 146.2,348.9 140.8,349.1 135.5,349.9 137.3,361.9 142.6,361.1 147.9,359.7 152.9,357.2 158.2,355.8 163.5,354.9 168.9,354.2 174.3,353.8 179.8,354.5 185.3,354.4 190.6,353.6Z" fill="url(#L47)"/><path d="M483.2,362.1 483.1,360.0 483.0,357.9 483.0,355.7 483.2,353.6 482.6,351.5 482.7,349.4 482.1,347.3 481.7,345.2 481.3,343.1 481.0,341.0 470.3,342.0 470.4,344.1 470.5,346.2 470.4,348.4 470.2,350.5 470.7,352.6 470.5,354.8 471.1,356.8 471.5,358.9 471.8,361.0 472.1,363.1Z" fill="url(#L49)"/><path d="M233.3,355.3 229.1,354.0 225.0,352.6 220.3,352.9 215.9,352.3 211.6,351.2 207.5,349.7 203.6,347.7 199.9,344.8 195.7,343.5 191.5,342.2 188.0,353.4 192.2,354.7 196.3,356.0 201.0,355.8 205.4,356.4 209.6,357.5 213.7,359.1 217.7,361.2 221.4,364.0 225.6,365.3 229.7,366.6Z" fill="url(#L40)"/><path d="M230.6,355.1 235.8,354.3 241.1,354.0 246.6,354.8 251.9,354.5 257.1,353.9 262.3,352.9 267.5,351.7 272.4,349.4 277.5,347.8 282.8,347.0 284.6,358.3 279.3,359.1 274.0,359.2 268.6,358.6 263.3,359.0 258.1,359.7 252.9,360.7 247.7,362.1 242.8,364.6 237.7,366.0 232.5,366.8Z" fill="url(#L41)"/><path d="M330.4,360.5 325.9,359.2 321.4,357.9 316.3,358.3 311.6,357.6 307.1,356.4 302.6,354.9 298.3,353.0 294.3,350.0 289.8,348.5 285.3,347.2 282.0,358.1 286.5,359.5 291.1,360.7 296.1,360.3 300.8,361.1 305.3,362.3 309.8,363.8 314.1,365.8 318.1,368.9 322.6,370.3 327.1,371.6Z" fill="url(#L30)"/><path d="M327.8,360.4 332.9,359.5 338.1,359.2 343.4,360.0 348.6,359.7 353.7,359.0 358.8,358.0 363.8,356.7 368.6,354.5 373.6,352.9 378.7,352.1 380.5,363.1 375.4,363.9 370.2,364.1 364.9,363.5 359.8,363.9 354.7,364.7 349.6,365.7 344.6,367.1 339.8,369.6 334.8,371.0 329.7,371.8Z" fill="url(#L28)"/><path d="M38.6,346.8 36.5,349.0 34.4,351.1 32.3,353.2 30.8,355.8 29.0,358.2 26.5,360.0 24.1,361.9 22.3,364.2 20.3,366.5 18.4,368.8 28.2,377.6 30.2,375.4 32.3,373.3 34.4,371.2 36.0,368.6 37.6,366.0 39.8,364.0 42.2,362.2 44.1,359.8 46.0,357.5 47.9,355.2Z" fill="url(#L35)"/><path d="M381.1,352.2 386.0,353.6 390.7,355.6 395.1,358.4 399.8,360.2 404.7,361.7 409.6,362.9 414.6,363.8 419.8,363.7 424.9,364.5 429.7,365.9 426.6,376.8 421.8,375.4 417.1,373.5 412.6,370.6 407.9,368.7 403.1,367.2 398.2,366.0 393.2,365.0 388.0,365.1 382.9,364.3 378.1,362.9Z" fill="url(#L84)"/><path d="M476.7,357.3 471.8,358.1 466.9,359.7 462.2,361.9 457.3,363.2 452.4,364.2 447.4,364.9 442.4,365.3 437.2,364.6 432.1,364.9 427.2,365.8 429.1,376.9 434.1,376.0 439.0,374.6 443.6,372.2 448.5,370.8 453.4,369.8 458.4,369.0 463.4,368.5 468.6,369.0 473.6,368.9 478.6,368.0Z" fill="url(#L50)"/><path d="M115.6,374.9 117.1,372.6 118.5,370.3 119.9,367.9 121.5,365.7 123.6,363.8 124.9,361.4 126.2,359.0 128.0,356.9 129.6,354.7 131.2,352.5 141.5,359.4 140.0,361.7 138.6,364.1 137.3,366.5 135.6,368.6 133.8,370.7 132.8,373.4 131.3,375.7 129.6,377.8 127.9,380.0 126.4,382.3Z" fill="url(#L81)"/><path d="M479.1,357.4 484.3,358.8 489.2,361.2 494.1,363.8 499.2,365.5 504.4,367.0 509.7,368.3 515.0,369.4 520.5,369.5 526.0,370.0 531.2,371.4 528.4,382.0 523.2,380.6 518.2,378.2 513.3,375.6 508.2,373.8 503.0,372.3 497.8,371.0 492.5,369.9 486.9,369.7 481.4,369.3 476.2,367.9Z" fill="url(#L48)"/><path d="M215.1,381.5 216.1,379.1 217.0,376.8 217.9,374.3 218.7,371.9 220.3,369.9 221.1,367.4 222.3,365.1 223.6,362.9 224.8,360.7 226.0,358.4 237.1,363.5 236.1,365.9 235.2,368.3 234.4,370.7 233.4,373.1 232.1,375.2 231.6,377.8 230.3,380.0 229.0,382.3 227.8,384.5 226.7,386.8Z" fill="url(#L24)"/><path d="M323.0,364.7 322.3,367.1 321.5,369.4 320.7,371.7 319.9,374.0 319.6,376.4 318.5,378.7 318.3,381.2 318.0,383.6 317.5,386.0 317.1,388.4 329.2,391.3 329.8,388.9 330.5,386.6 331.3,384.2 332.3,382.0 332.3,379.5 333.1,377.1 333.5,374.7 333.7,372.3 334.1,369.9 334.6,367.5Z" fill="url(#L29)"/><path d="M64.7,381.7 60.8,380.2 56.9,378.7 52.7,378.1 48.3,377.8 44.3,376.6 40.5,374.9 37.0,372.3 33.4,370.0 29.5,368.5 25.6,367.0 21.0,379.3 24.9,380.8 28.8,382.3 33.0,382.9 37.3,383.3 41.3,384.5 45.1,386.3 48.5,389.0 52.1,391.3 56.0,392.8 59.9,394.2Z" fill="url(#L82)"/><path d="M120.0,372.3 114.1,373.2 108.4,374.9 102.8,377.5 97.0,378.9 91.1,380.0 85.2,380.7 79.3,381.1 73.1,380.1 67.1,380.4 61.3,381.4 63.4,394.6 69.2,393.6 75.0,392.1 80.6,389.2 86.3,387.7 92.2,386.6 98.1,385.8 104.0,385.3 110.1,386.0 116.1,385.9 122.0,384.9Z" fill="url(#L79)"/><path d="M421.7,395.5 421.7,393.1 421.6,390.7 421.4,388.2 421.2,385.8 421.8,383.4 421.6,380.9 421.7,378.5 422.0,376.1 422.2,373.7 422.4,371.2 434.0,371.4 434.0,373.9 434.2,376.3 434.4,378.7 434.4,381.2 434.1,383.6 434.7,386.0 434.4,388.4 434.1,390.9 433.9,393.3 433.8,395.7Z" fill="url(#L68)"/><path d="M123.1,372.5 127.4,374.0 131.7,375.5 135.4,378.5 139.4,380.9 143.6,382.6 147.9,383.8 152.5,384.4 157.3,384.5 161.5,386.0 165.8,387.6 161.4,399.9 157.2,398.4 152.9,396.9 149.1,394.0 145.2,391.5 141.0,389.7 136.7,388.4 132.1,387.8 127.3,387.7 123.1,386.2 118.8,384.7Z" fill="url(#L80)"/><path d="M219.9,377.9 214.1,378.9 208.5,380.7 203.1,383.2 197.4,384.6 191.7,385.7 186.0,386.5 180.1,386.9 174.1,386.0 168.3,386.3 162.5,387.3 164.7,400.2 170.4,399.2 176.0,397.6 181.5,394.8 187.1,393.3 192.8,392.2 198.5,391.3 204.3,390.8 210.3,391.5 216.2,391.3 221.9,390.3Z" fill="url(#L25)"/><path d="M269.3,393.6 264.7,392.0 260.1,390.5 254.8,390.7 249.9,389.9 245.2,388.6 240.6,386.9 236.2,384.6 232.2,381.3 227.5,379.7 222.9,378.2 218.9,390.1 223.5,391.7 228.2,393.2 233.4,393.0 238.3,393.8 243.0,395.2 247.6,396.9 252.0,399.3 256.0,402.6 260.6,404.1 265.3,405.7Z" fill="url(#L12)"/><path d="M266.2,393.3 271.8,392.4 277.5,392.0 283.4,392.8 289.1,392.4 294.7,391.6 300.2,390.5 305.7,389.0 311.0,386.5 316.5,384.8 322.1,383.8 324.2,395.8 318.6,396.8 312.9,397.0 307.0,396.5 301.4,397.0 295.8,397.9 290.2,399.0 284.7,400.6 279.5,403.4 274.0,404.9 268.4,405.9Z" fill="url(#L13)"/><path d="M375.4,399.7 370.3,398.2 365.2,396.9 359.6,397.1 354.4,396.1 349.3,394.7 344.3,393.0 339.4,390.8 334.9,387.5 330.0,385.6 325.0,384.0 321.3,395.7 326.3,397.2 331.5,398.5 337.1,398.3 342.3,399.4 347.3,400.8 352.3,402.6 357.2,404.7 361.6,408.1 366.6,410.0 371.6,411.6Z" fill="url(#L1)"/><path d="M372.4,399.6 377.8,398.6 383.3,398.1 389.1,398.9 394.6,398.4 400.1,397.6 405.5,396.5 410.8,395.0 416.0,392.5 421.2,390.8 426.7,389.7 428.8,401.5 423.4,402.5 417.9,402.7 412.1,402.2 406.6,402.8 401.2,403.7 395.8,404.9 390.5,406.4 385.4,409.2 380.0,410.8 374.6,411.8Z" fill="url(#L0)"/><path d="M36.0,409.7 38.0,407.1 40.0,404.4 42.0,401.7 44.7,399.5 47.3,397.3 49.1,394.5 50.5,391.4 52.7,388.9 54.9,386.3 57.0,383.8 67.6,392.2 65.6,394.8 63.6,397.5 61.7,400.3 59.0,402.3 56.7,404.8 55.1,407.8 53.7,410.9 51.5,413.4 49.4,416.0 47.2,418.6Z" fill="url(#L64)"/><path d="M484.0,406.1 478.5,404.4 472.8,403.7 466.9,403.5 461.3,402.4 455.9,400.8 450.4,399.1 445.1,397.1 440.1,394.0 434.9,391.5 429.5,389.9 426.1,401.3 431.5,403.0 437.2,403.7 443.1,403.9 448.7,405.1 454.1,406.6 459.5,408.4 464.9,410.5 469.9,413.6 475.1,416.0 480.5,417.7Z" fill="url(#L11)"/><path d="M142.2,417.1 143.7,414.4 145.2,411.6 146.5,408.9 148.4,406.4 150.5,404.0 151.8,401.2 152.8,398.3 154.6,395.7 156.2,393.1 157.8,390.4 169.4,397.0 167.9,399.7 166.5,402.5 165.2,405.3 163.2,407.7 161.5,410.3 160.5,413.3 159.3,416.2 157.6,418.7 156.0,421.4 154.5,424.0Z" fill="url(#L67)"/><path d="M261.2,397.5 260.1,400.2 259.0,402.9 257.8,405.6 257.1,408.4 256.4,411.3 254.8,413.8 253.8,416.5 253.0,419.3 252.2,422.1 251.3,424.9 264.2,429.4 265.2,426.7 266.3,423.9 267.4,421.3 268.3,418.5 268.6,415.5 269.8,412.8 271.1,410.2 271.8,407.4 272.6,404.6 273.5,401.8Z" fill="url(#L14)"/><path d="M367.2,404.9 366.7,407.7 366.2,410.5 365.6,413.3 365.6,416.1 365.5,419.0 364.5,421.7 364.0,424.5 363.8,427.4 363.6,430.2 363.3,433.0 376.5,434.7 376.9,431.9 377.4,429.1 378.0,426.3 378.2,423.5 377.9,420.6 378.5,417.8 379.2,415.0 379.3,412.1 379.5,409.3 379.8,406.5Z" fill="url(#L2)"/><path d="M44.3,407.5 48.6,409.3 53.0,411.0 56.8,413.9 60.7,416.8 64.9,418.8 69.4,420.2 74.2,420.8 79.0,421.4 83.3,423.2 87.6,425.0 82.1,438.5 77.8,436.7 73.5,435.0 69.6,432.1 65.8,429.2 61.6,427.1 57.1,425.6 52.4,424.9 47.6,424.3 43.3,422.5 38.9,420.8Z" fill="url(#L63)"/><path d="M147.1,413.7 140.8,414.8 134.6,416.8 128.6,419.7 122.3,421.3 116.0,422.6 109.6,423.5 103.1,423.9 96.4,423.0 90.0,423.4 83.6,424.6 86.1,438.9 92.5,437.8 98.7,436.0 104.7,432.8 110.9,431.0 117.2,429.7 123.6,428.7 130.0,428.1 136.7,428.8 143.2,428.5 149.6,427.4Z" fill="url(#L65)"/><path d="M150.8,414.1 155.6,415.8 160.3,417.6 164.5,421.1 168.9,423.8 173.6,425.8 178.4,427.4 183.6,428.2 188.9,428.3 193.7,430.1 198.5,432.0 193.4,445.2 188.7,443.4 183.9,441.6 179.8,438.2 175.4,435.4 170.7,433.3 165.9,431.7 160.8,430.8 155.4,430.7 150.6,428.9 145.9,427.1Z" fill="url(#L66)"/><path d="M194.6,431.6 200.8,430.5 207.1,430.0 213.7,430.8 220.0,430.3 226.2,429.4 232.4,428.1 238.4,426.5 244.3,423.6 250.3,421.6 256.5,420.5 259.0,433.8 252.8,435.0 246.5,435.2 240.0,434.7 233.7,435.3 227.5,436.4 221.3,437.7 215.3,439.5 209.5,442.6 203.4,444.4 197.2,445.6Z" fill="url(#L78)"/><path d="M312.2,439.1 307.0,437.3 301.8,435.4 295.8,435.7 290.3,434.6 285.0,432.9 279.9,430.9 274.9,428.4 270.4,424.5 265.2,422.6 260.0,420.7 255.5,433.5 260.7,435.4 265.9,437.2 271.8,437.0 277.3,438.1 282.6,439.8 287.7,441.9 292.7,444.5 297.1,448.4 302.3,450.3 307.6,452.1Z" fill="url(#L43)"/><path d="M308.5,438.9 314.5,437.7 320.7,437.1 327.1,437.9 333.2,437.4 339.2,436.4 345.2,435.1 351.1,433.4 356.8,430.6 362.6,428.6 368.6,427.4 371.2,440.3 365.2,441.5 359.0,441.9 352.7,441.4 346.6,442.1 340.6,443.1 334.6,444.5 328.7,446.3 323.1,449.4 317.2,451.2 311.2,452.4Z" fill="url(#L42)"/><path d="M57.1,458.7 59.2,455.6 61.2,452.4 63.3,449.2 66.4,446.7 69.1,444.0 71.0,440.7 72.1,436.8 74.4,433.8 76.6,430.7 78.8,427.6 91.0,435.9 88.9,439.0 86.8,442.2 84.9,445.5 81.7,447.9 79.3,450.9 77.8,454.5 76.6,458.2 74.4,461.3 72.2,464.4 70.0,467.5Z" fill="url(#L54)"/><path d="M189.4,435.6 187.9,438.8 186.3,442.0 184.6,445.1 184.0,448.7 182.8,452.1 180.6,455.0 178.4,457.9 177.0,461.2 175.6,464.4 174.2,467.7 188.1,474.0 189.6,470.8 191.2,467.6 192.8,464.5 193.5,460.9 194.3,457.4 196.1,454.3 198.4,451.4 199.7,448.1 201.1,444.8 202.5,441.6Z" fill="url(#L77)"/><path d="M66.7,456.0 71.5,458.1 76.4,460.2 80.6,463.8 85.0,467.0 89.7,469.4 94.7,471.2 100.1,472.1 105.5,472.8 110.4,475.0 115.2,477.1 108.8,491.7 104.0,489.6 99.1,487.5 94.9,483.9 90.6,480.6 85.9,478.1 80.9,476.2 75.6,475.2 70.1,474.6 65.3,472.4 60.4,470.3Z" fill="url(#L55)"/><path d="M179.7,463.4 172.8,464.8 166.1,467.1 159.5,470.3 152.7,472.2 145.8,473.7 138.9,474.9 131.8,475.5 124.5,474.6 117.4,475.2 110.5,476.6 113.6,492.2 120.5,490.8 127.3,488.8 133.7,485.2 140.5,483.1 147.4,481.5 154.3,480.3 161.3,479.5 168.6,480.0 175.7,479.6 182.6,478.3Z" fill="url(#L83)"/></g>
<g><circle cx="392.4" cy="257.0" r="6.9" fill="url(#atom)"/><circle cx="392.4" cy="257.0" r="6.9" fill="url(#hl)"/><circle cx="353.5" cy="262.1" r="7.1" fill="url(#atom)"/><circle cx="353.5" cy="262.1" r="7.1" fill="url(#hl)"/><circle cx="430.0" cy="265.2" r="6.9" fill="url(#atom)"/><circle cx="430.0" cy="265.2" r="6.9" fill="url(#hl)"/><circle cx="272.0" cy="272.6" r="7.5" fill="url(#atom)"/><circle cx="272.0" cy="272.6" r="7.5" fill="url(#hl)"/><circle cx="350.2" cy="275.9" r="7.4" fill="url(#atom)"/><circle cx="350.2" cy="275.9" r="7.4" fill="url(#hl)"/><circle cx="229.4" cy="278.1" r="7.8" fill="url(#atom)"/><circle cx="229.4" cy="278.1" r="7.8" fill="url(#hl)"/><circle cx="429.7" cy="279.3" r="7.2" fill="url(#atom)"/><circle cx="429.7" cy="279.3" r="7.2" fill="url(#hl)"/><circle cx="308.4" cy="281.5" r="7.6" fill="url(#atom)"/><circle cx="308.4" cy="281.5" r="7.6" fill="url(#hl)"/><circle cx="388.8" cy="285.0" r="7.5" fill="url(#atom)"/><circle cx="388.8" cy="285.0" r="7.5" fill="url(#hl)"/><circle cx="470.7" cy="288.6" r="7.3" fill="url(#atom)"/><circle cx="470.7" cy="288.6" r="7.3" fill="url(#hl)"/><circle cx="139.9" cy="289.7" r="8.3" fill="url(#atom)"/><circle cx="139.9" cy="289.7" r="8.3" fill="url(#hl)"/><circle cx="220.7" cy="293.3" r="8.1" fill="url(#atom)"/><circle cx="220.7" cy="293.3" r="8.1" fill="url(#hl)"/><circle cx="93.0" cy="295.8" r="8.6" fill="url(#atom)"/><circle cx="93.0" cy="295.8" r="8.6" fill="url(#hl)"/><circle cx="303.0" cy="297.1" r="8.0" fill="url(#atom)"/><circle cx="303.0" cy="297.1" r="8.0" fill="url(#hl)"/><circle cx="174.7" cy="299.5" r="8.4" fill="url(#atom)"/><circle cx="174.7" cy="299.5" r="8.4" fill="url(#hl)"/><circle cx="386.8" cy="300.9" r="7.8" fill="url(#atom)"/><circle cx="386.8" cy="300.9" r="7.8" fill="url(#hl)"/><circle cx="257.9" cy="303.4" r="8.2" fill="url(#atom)"/><circle cx="257.9" cy="303.4" r="8.2" fill="url(#hl)"/><circle cx="472.2" cy="304.7" r="7.6" fill="url(#atom)"/><circle cx="472.2" cy="304.7" r="7.6" fill="url(#hl)"/><circle cx="342.7" cy="307.3" r="8.1" fill="url(#atom)"/><circle cx="342.7" cy="307.3" r="8.1" fill="url(#hl)"/><circle cx="429.2" cy="311.3" r="7.9" fill="url(#atom)"/><circle cx="429.2" cy="311.3" r="7.9" fill="url(#hl)"/><circle cx="77.9" cy="312.6" r="9.0" fill="url(#atom)"/><circle cx="77.9" cy="312.6" r="9.0" fill="url(#hl)"/><circle cx="517.3" cy="315.3" r="7.7" fill="url(#atom)"/><circle cx="517.3" cy="315.3" r="7.7" fill="url(#hl)"/><circle cx="163.1" cy="316.7" r="8.8" fill="url(#atom)"/><circle cx="163.1" cy="316.7" r="8.8" fill="url(#hl)"/><circle cx="27.0" cy="319.4" r="9.3" fill="url(#atom)"/><circle cx="27.0" cy="319.4" r="9.3" fill="url(#hl)"/><circle cx="249.9" cy="320.8" r="8.6" fill="url(#atom)"/><circle cx="249.9" cy="320.8" r="8.6" fill="url(#hl)"/><circle cx="113.1" cy="323.7" r="9.1" fill="url(#atom)"/><circle cx="113.1" cy="323.7" r="9.1" fill="url(#hl)"/><circle cx="338.5" cy="325.1" r="8.5" fill="url(#atom)"/><circle cx="338.5" cy="325.1" r="8.5" fill="url(#hl)"/><circle cx="201.0" cy="328.0" r="9.0" fill="url(#atom)"/><circle cx="201.0" cy="328.0" r="9.0" fill="url(#hl)"/><circle cx="428.9" cy="329.5" r="8.3" fill="url(#atom)"/><circle cx="428.9" cy="329.5" r="8.3" fill="url(#hl)"/><circle cx="290.7" cy="332.4" r="8.8" fill="url(#atom)"/><circle cx="290.7" cy="332.4" r="8.8" fill="url(#hl)"/><circle cx="521.1" cy="333.9" r="8.1" fill="url(#atom)"/><circle cx="521.1" cy="333.9" r="8.1" fill="url(#hl)"/><circle cx="382.2" cy="336.9" r="8.6" fill="url(#atom)"/><circle cx="382.2" cy="336.9" r="8.6" fill="url(#hl)"/><circle cx="7.7" cy="338.4" r="9.8" fill="url(#atom)"/><circle cx="7.7" cy="338.4" r="9.8" fill="url(#hl)"/><circle cx="475.7" cy="341.5" r="8.4" fill="url(#atom)"/><circle cx="475.7" cy="341.5" r="8.4" fill="url(#hl)"/><circle cx="97.8" cy="343.1" r="9.6" fill="url(#atom)"/><circle cx="97.8" cy="343.1" r="9.6" fill="url(#hl)"/><circle cx="189.7" cy="347.8" r="9.4" fill="url(#atom)"/><circle cx="189.7" cy="347.8" r="9.4" fill="url(#hl)"/><circle cx="43.3" cy="351.0" r="10.0" fill="url(#atom)"/><circle cx="43.3" cy="351.0" r="10.0" fill="url(#hl)"/><circle cx="283.7" cy="352.6" r="9.2" fill="url(#atom)"/><circle cx="283.7" cy="352.6" r="9.2" fill="url(#hl)"/><circle cx="136.4" cy="355.9" r="9.8" fill="url(#atom)"/><circle cx="136.4" cy="355.9" r="9.8" fill="url(#hl)"/><circle cx="379.6" cy="357.6" r="9.0" fill="url(#atom)"/><circle cx="379.6" cy="357.6" r="9.0" fill="url(#hl)"/><circle cx="231.5" cy="361.0" r="9.6" fill="url(#atom)"/><circle cx="231.5" cy="361.0" r="9.6" fill="url(#hl)"/><circle cx="477.6" cy="362.6" r="8.8" fill="url(#atom)"/><circle cx="477.6" cy="362.6" r="8.8" fill="url(#hl)"/><circle cx="328.8" cy="366.1" r="9.4" fill="url(#atom)"/><circle cx="328.8" cy="366.1" r="9.4" fill="url(#hl)"/><circle cx="428.2" cy="371.3" r="9.1" fill="url(#atom)"/><circle cx="428.2" cy="371.3" r="9.1" fill="url(#hl)"/><circle cx="23.3" cy="373.2" r="10.6" fill="url(#atom)"/><circle cx="23.3" cy="373.2" r="10.6" fill="url(#hl)"/><circle cx="529.8" cy="376.7" r="8.9" fill="url(#atom)"/><circle cx="529.8" cy="376.7" r="8.9" fill="url(#hl)"/><circle cx="121.0" cy="378.6" r="10.4" fill="url(#atom)"/><circle cx="121.0" cy="378.6" r="10.4" fill="url(#hl)"/><circle cx="220.9" cy="384.1" r="10.1" fill="url(#atom)"/><circle cx="220.9" cy="384.1" r="10.1" fill="url(#hl)"/><circle cx="62.3" cy="388.0" r="10.8" fill="url(#atom)"/><circle cx="62.3" cy="388.0" r="10.8" fill="url(#hl)"/><circle cx="323.1" cy="389.8" r="9.9" fill="url(#atom)"/><circle cx="323.1" cy="389.8" r="9.9" fill="url(#hl)"/><circle cx="163.6" cy="393.7" r="10.6" fill="url(#atom)"/><circle cx="163.6" cy="393.7" r="10.6" fill="url(#hl)"/><circle cx="427.8" cy="395.6" r="9.6" fill="url(#atom)"/><circle cx="427.8" cy="395.6" r="9.6" fill="url(#hl)"/><circle cx="267.3" cy="399.6" r="10.3" fill="url(#atom)"/><circle cx="267.3" cy="399.6" r="10.3" fill="url(#hl)"/><circle cx="373.5" cy="405.7" r="10.0" fill="url(#atom)"/><circle cx="373.5" cy="405.7" r="10.0" fill="url(#hl)"/><circle cx="482.2" cy="411.9" r="9.8" fill="url(#atom)"/><circle cx="482.2" cy="411.9" r="9.8" fill="url(#hl)"/><circle cx="41.6" cy="414.1" r="11.5" fill="url(#atom)"/><circle cx="41.6" cy="414.1" r="11.5" fill="url(#hl)"/><circle cx="148.3" cy="420.6" r="11.2" fill="url(#atom)"/><circle cx="148.3" cy="420.6" r="11.2" fill="url(#hl)"/><circle cx="257.7" cy="427.1" r="10.9" fill="url(#atom)"/><circle cx="257.7" cy="427.1" r="10.9" fill="url(#hl)"/><circle cx="84.9" cy="431.7" r="11.7" fill="url(#atom)"/><circle cx="84.9" cy="431.7" r="11.7" fill="url(#hl)"/><circle cx="369.9" cy="433.9" r="10.6" fill="url(#atom)"/><circle cx="369.9" cy="433.9" r="10.6" fill="url(#hl)"/><circle cx="195.9" cy="438.6" r="11.4" fill="url(#atom)"/><circle cx="195.9" cy="438.6" r="11.4" fill="url(#hl)"/><circle cx="309.9" cy="445.6" r="11.1" fill="url(#atom)"/><circle cx="309.9" cy="445.6" r="11.1" fill="url(#hl)"/><circle cx="63.5" cy="463.1" r="12.6" fill="url(#atom)"/><circle cx="63.5" cy="463.1" r="12.6" fill="url(#hl)"/><circle cx="181.2" cy="470.8" r="12.2" fill="url(#atom)"/><circle cx="181.2" cy="470.8" r="12.2" fill="url(#hl)"/><circle cx="112.0" cy="484.4" r="12.8" fill="url(#atom)"/><circle cx="112.0" cy="484.4" r="12.8" fill="url(#hl)"/></g>
</g>
<g clip-path="url(#rclip)"><g clip-path="url(#outclip)">
<g stroke="#000" stroke-linecap="round" opacity="0.3" filter="url(#blur)"><line x1="373.5" y1="416.7" x2="427.8" y2="406.7" stroke-width="6.1"/><line x1="373.5" y1="416.9" x2="323.1" y2="401.0" stroke-width="6.2"/><line x1="373.5" y1="417.3" x2="369.9" y2="445.5" stroke-width="6.4"/><line x1="308.4" y1="290.3" x2="303.0" y2="305.8" stroke-width="4.8"/><line x1="308.4" y1="290.1" x2="272.0" y2="281.1" stroke-width="4.7"/><line x1="308.4" y1="290.0" x2="350.2" y2="284.4" stroke-width="4.6"/><line x1="382.2" y1="346.3" x2="428.9" y2="338.9" stroke-width="5.2"/><line x1="382.2" y1="346.8" x2="379.6" y2="367.4" stroke-width="5.4"/><line x1="382.2" y1="346.5" x2="338.5" y2="334.7" stroke-width="5.3"/><line x1="303.0" y1="306.2" x2="257.9" y2="312.5" stroke-width="5.0"/><line x1="303.0" y1="306.1" x2="342.7" y2="316.3" stroke-width="5.0"/><line x1="482.2" y1="422.7" x2="427.8" y2="406.5" stroke-width="6.0"/><line x1="267.3" y1="411.1" x2="220.9" y2="395.6" stroke-width="6.3"/><line x1="267.3" y1="411.0" x2="323.1" y2="401.2" stroke-width="6.2"/><line x1="267.3" y1="411.6" x2="257.7" y2="439.1" stroke-width="6.6"/><line x1="272.0" y1="281.2" x2="229.4" y2="286.7" stroke-width="4.7"/><line x1="113.1" y1="334.2" x2="97.8" y2="353.6" stroke-width="5.8"/><line x1="113.1" y1="333.7" x2="163.1" y2="326.8" stroke-width="5.5"/><line x1="113.1" y1="333.8" x2="77.9" y2="322.8" stroke-width="5.6"/><line x1="388.8" y1="293.4" x2="350.2" y2="284.3" stroke-width="4.6"/><line x1="388.8" y1="293.3" x2="429.7" y2="287.6" stroke-width="4.5"/><line x1="388.8" y1="293.6" x2="386.8" y2="309.4" stroke-width="4.7"/><line x1="93.0" y1="305.2" x2="139.9" y2="299.2" stroke-width="5.2"/><line x1="93.0" y1="305.6" x2="77.9" y2="322.4" stroke-width="5.4"/><line x1="220.9" y1="395.2" x2="231.5" y2="372.0" stroke-width="6.1"/><line x1="220.9" y1="395.8" x2="163.6" y2="405.3" stroke-width="6.4"/><line x1="353.5" y1="270.2" x2="350.2" y2="284.1" stroke-width="4.5"/><line x1="353.5" y1="269.9" x2="392.4" y2="264.9" stroke-width="4.3"/><line x1="328.8" y1="376.4" x2="379.6" y2="367.9" stroke-width="5.7"/><line x1="328.8" y1="376.9" x2="323.1" y2="400.6" stroke-width="5.9"/><line x1="328.8" y1="376.5" x2="283.7" y2="363.1" stroke-width="5.7"/><line x1="470.7" y1="297.0" x2="472.2" y2="313.1" stroke-width="4.6"/><line x1="470.7" y1="296.8" x2="429.7" y2="287.5" stroke-width="4.5"/><line x1="97.8" y1="354.1" x2="43.3" y2="362.0" stroke-width="6.1"/><line x1="97.8" y1="354.0" x2="136.4" y2="366.8" stroke-width="6.0"/><line x1="43.3" y1="362.6" x2="23.3" y2="384.7" stroke-width="6.4"/><line x1="43.3" y1="362.2" x2="7.7" y2="349.6" stroke-width="6.1"/><line x1="174.7" y1="309.2" x2="163.1" y2="326.3" stroke-width="5.3"/><line x1="174.7" y1="308.9" x2="139.9" y2="299.1" stroke-width="5.2"/><line x1="174.7" y1="308.8" x2="220.7" y2="302.6" stroke-width="5.1"/><line x1="231.5" y1="371.6" x2="189.7" y2="358.5" stroke-width="5.9"/><line x1="231.5" y1="371.5" x2="283.7" y2="363.2" stroke-width="5.8"/><line x1="309.9" y1="457.9" x2="369.9" y2="446.1" stroke-width="6.7"/><line x1="309.9" y1="458.0" x2="257.7" y2="439.5" stroke-width="6.8"/><line x1="521.1" y1="342.7" x2="517.3" y2="324.2" stroke-width="4.9"/><line x1="521.1" y1="343.1" x2="475.7" y2="350.7" stroke-width="5.1"/><line x1="189.7" y1="358.1" x2="201.0" y2="338.3" stroke-width="5.7"/><line x1="189.7" y1="358.6" x2="136.4" y2="366.7" stroke-width="5.9"/><line x1="477.6" y1="372.5" x2="529.8" y2="386.6" stroke-width="5.5"/><line x1="477.6" y1="372.2" x2="475.7" y2="351.1" stroke-width="5.3"/><line x1="477.6" y1="372.7" x2="428.2" y2="381.4" stroke-width="5.5"/><line x1="290.7" y1="342.2" x2="249.9" y2="330.6" stroke-width="5.4"/><line x1="290.7" y1="342.1" x2="338.5" y2="334.8" stroke-width="5.3"/><line x1="290.7" y1="342.5" x2="283.7" y2="362.7" stroke-width="5.6"/><line x1="63.5" y1="476.8" x2="84.9" y2="445.4" stroke-width="7.5"/><line x1="63.5" y1="477.4" x2="112.0" y2="498.7" stroke-width="7.8"/><line x1="472.2" y1="313.3" x2="517.3" y2="323.9" stroke-width="4.7"/><line x1="472.2" y1="313.4" x2="429.2" y2="320.0" stroke-width="4.8"/><line x1="249.9" y1="330.3" x2="257.9" y2="312.9" stroke-width="5.2"/><line x1="249.9" y1="330.7" x2="201.0" y2="337.9" stroke-width="5.4"/><line x1="428.9" y1="338.8" x2="475.7" y2="350.8" stroke-width="5.1"/><line x1="428.9" y1="338.5" x2="429.2" y2="320.3" stroke-width="5.0"/><line x1="163.1" y1="326.6" x2="201.0" y2="338.0" stroke-width="5.5"/><line x1="41.6" y1="427.2" x2="84.9" y2="444.8" stroke-width="7.2"/><line x1="41.6" y1="426.7" x2="62.3" y2="400.5" stroke-width="6.9"/><line x1="148.3" y1="433.5" x2="84.9" y2="444.6" stroke-width="7.1"/><line x1="148.3" y1="433.3" x2="195.9" y2="451.3" stroke-width="7.0"/><line x1="148.3" y1="432.8" x2="163.6" y2="406.0" stroke-width="6.7"/><line x1="427.8" y1="406.1" x2="428.2" y2="381.9" stroke-width="5.8"/><line x1="229.4" y1="287.1" x2="220.7" y2="302.3" stroke-width="4.9"/><line x1="257.9" y1="312.6" x2="220.7" y2="302.5" stroke-width="5.1"/><line x1="430.0" y1="273.0" x2="392.4" y2="264.8" stroke-width="4.3"/><line x1="430.0" y1="273.2" x2="429.7" y2="287.3" stroke-width="4.4"/><line x1="342.7" y1="316.6" x2="338.5" y2="334.4" stroke-width="5.1"/><line x1="342.7" y1="316.2" x2="386.8" y2="309.8" stroke-width="4.9"/><line x1="77.9" y1="322.8" x2="27.0" y2="329.7" stroke-width="5.7"/><line x1="27.0" y1="330.2" x2="7.7" y2="349.2" stroke-width="5.9"/><line x1="195.9" y1="451.9" x2="181.2" y2="484.1" stroke-width="7.3"/><line x1="195.9" y1="451.2" x2="257.7" y2="439.7" stroke-width="6.9"/><line x1="121.0" y1="390.5" x2="62.3" y2="399.9" stroke-width="6.5"/><line x1="121.0" y1="390.4" x2="163.6" y2="405.5" stroke-width="6.5"/><line x1="121.0" y1="389.9" x2="136.4" y2="367.3" stroke-width="6.2"/><line x1="62.3" y1="400.0" x2="23.3" y2="385.2" stroke-width="6.6"/><line x1="181.2" y1="484.9" x2="112.0" y2="498.5" stroke-width="7.8"/><line x1="379.6" y1="367.8" x2="428.2" y2="381.5" stroke-width="5.6"/><line x1="429.2" y1="320.1" x2="386.8" y2="309.7" stroke-width="4.8"/></g>
<defs><linearGradient id="dg"><stop offset="0" stop-color="#6e6e6e"/><stop offset="0.3" stop-color="#c8c8c8"/><stop offset="0.62" stop-color="#767676"/><stop offset="1" stop-color="#303030"/></linearGradient><linearGradient id="d27" gradientUnits="userSpaceOnUse" x1="372.5" y1="256.5" x2="373.3" y2="262.6" href="#dg"/><linearGradient id="d71" gradientUnits="userSpaceOnUse" x1="411.8" y1="258.1" x2="410.5" y2="264.1" href="#dg"/><linearGradient id="d26" gradientUnits="userSpaceOnUse" x1="348.7" y1="268.2" x2="355.0" y2="269.7" href="#dg"/><linearGradient id="d72" gradientUnits="userSpaceOnUse" x1="426.7" y1="272.2" x2="433.0" y2="272.3" href="#dg"/><linearGradient id="d15" gradientUnits="userSpaceOnUse" x1="250.3" y1="272.0" x2="251.1" y2="278.7" href="#dg"/><linearGradient id="d4" gradientUnits="userSpaceOnUse" x1="291.0" y1="273.8" x2="289.4" y2="280.3" href="#dg"/><linearGradient id="d5" gradientUnits="userSpaceOnUse" x1="328.8" y1="275.4" x2="329.7" y2="282.0" href="#dg"/><linearGradient id="d19" gradientUnits="userSpaceOnUse" x1="370.3" y1="277.3" x2="368.7" y2="283.7" href="#dg"/><linearGradient id="d20" gradientUnits="userSpaceOnUse" x1="408.8" y1="278.9" x2="409.7" y2="285.4" href="#dg"/><linearGradient id="d32" gradientUnits="userSpaceOnUse" x1="450.9" y1="280.8" x2="449.5" y2="287.1" href="#dg"/><linearGradient id="d69" gradientUnits="userSpaceOnUse" x1="222.0" y1="284.0" x2="228.1" y2="287.5" href="#dg"/><linearGradient id="d3" gradientUnits="userSpaceOnUse" x1="302.4" y1="288.2" x2="309.0" y2="290.4" href="#dg"/><linearGradient id="d22" gradientUnits="userSpaceOnUse" x1="116.0" y1="289.0" x2="117.0" y2="296.4" href="#dg"/><linearGradient id="d21" gradientUnits="userSpaceOnUse" x1="384.5" y1="292.5" x2="391.2" y2="293.4" href="#dg"/><linearGradient id="d38" gradientUnits="userSpaceOnUse" x1="158.3" y1="291.1" x2="156.3" y2="298.2" href="#dg"/><linearGradient id="d39" gradientUnits="userSpaceOnUse" x1="197.2" y1="292.8" x2="198.2" y2="300.1" href="#dg"/><linearGradient id="d31" gradientUnits="userSpaceOnUse" x1="474.8" y1="296.3" x2="468.2" y2="297.0" href="#dg"/><linearGradient id="d70" gradientUnits="userSpaceOnUse" x1="240.3" y1="294.9" x2="238.4" y2="301.9" href="#dg"/><linearGradient id="d9" gradientUnits="userSpaceOnUse" x1="280.0" y1="296.7" x2="281.0" y2="303.8" href="#dg"/><linearGradient id="d10" gradientUnits="userSpaceOnUse" x1="323.7" y1="298.7" x2="322.0" y2="305.6" href="#dg"/><linearGradient id="d74" gradientUnits="userSpaceOnUse" x1="364.3" y1="300.6" x2="365.3" y2="307.6" href="#dg"/><linearGradient id="d23" gradientUnits="userSpaceOnUse" x1="82.6" y1="301.6" x2="88.4" y2="306.8" href="#dg"/><linearGradient id="d85" gradientUnits="userSpaceOnUse" x1="408.8" y1="302.7" x2="407.2" y2="309.4" href="#dg"/><linearGradient id="d57" gradientUnits="userSpaceOnUse" x1="450.2" y1="304.6" x2="451.2" y2="311.4" href="#dg"/><linearGradient id="d37" gradientUnits="userSpaceOnUse" x1="165.7" y1="306.0" x2="172.0" y2="310.3" href="#dg"/><linearGradient id="d56" gradientUnits="userSpaceOnUse" x1="495.6" y1="306.7" x2="494.0" y2="313.3" href="#dg"/><linearGradient id="d58" gradientUnits="userSpaceOnUse" x1="250.5" y1="310.5" x2="257.3" y2="313.7" href="#dg"/><linearGradient id="d75" gradientUnits="userSpaceOnUse" x1="51.9" y1="312.0" x2="53.0" y2="320.0" href="#dg"/><linearGradient id="d73" gradientUnits="userSpaceOnUse" x1="337.0" y1="315.4" x2="344.2" y2="317.0" href="#dg"/><linearGradient id="d18" gradientUnits="userSpaceOnUse" x1="96.7" y1="314.3" x2="94.3" y2="322.0" href="#dg"/><linearGradient id="d17" gradientUnits="userSpaceOnUse" x1="137.5" y1="316.2" x2="138.6" y2="324.1" href="#dg"/><linearGradient id="d61" gradientUnits="userSpaceOnUse" x1="425.4" y1="320.3" x2="432.6" y2="320.4" href="#dg"/><linearGradient id="d62" gradientUnits="userSpaceOnUse" x1="183.2" y1="318.5" x2="180.9" y2="326.1" href="#dg"/><linearGradient id="d59" gradientUnits="userSpaceOnUse" x1="224.9" y1="320.5" x2="226.0" y2="328.3" href="#dg"/><linearGradient id="d44" gradientUnits="userSpaceOnUse" x1="522.6" y1="323.9" x2="515.8" y2="325.3" href="#dg"/><linearGradient id="d51" gradientUnits="userSpaceOnUse" x1="271.4" y1="322.9" x2="269.3" y2="330.3" href="#dg"/><linearGradient id="d52" gradientUnits="userSpaceOnUse" x1="314.0" y1="325.0" x2="315.2" y2="332.5" href="#dg"/><linearGradient id="d76" gradientUnits="userSpaceOnUse" x1="14.4" y1="325.9" x2="20.3" y2="331.9" href="#dg"/><linearGradient id="d8" gradientUnits="userSpaceOnUse" x1="361.3" y1="327.4" x2="359.4" y2="334.7" href="#dg"/><linearGradient id="d6" gradientUnits="userSpaceOnUse" x1="405.0" y1="329.5" x2="406.1" y2="336.9" href="#dg"/><linearGradient id="d16" gradientUnits="userSpaceOnUse" x1="102.2" y1="330.8" x2="108.7" y2="335.9" href="#dg"/><linearGradient id="d60" gradientUnits="userSpaceOnUse" x1="453.2" y1="331.9" x2="451.4" y2="339.0" href="#dg"/><linearGradient id="d45" gradientUnits="userSpaceOnUse" x1="497.8" y1="334.1" x2="499.0" y2="341.3" href="#dg"/><linearGradient id="d46" gradientUnits="userSpaceOnUse" x1="191.8" y1="335.9" x2="198.9" y2="339.9" href="#dg"/><linearGradient id="d53" gradientUnits="userSpaceOnUse" x1="283.4" y1="341.2" x2="290.9" y2="343.8" href="#dg"/><linearGradient id="d36" gradientUnits="userSpaceOnUse" x1="27.0" y1="340.6" x2="24.0" y2="348.9" href="#dg"/><linearGradient id="d33" gradientUnits="userSpaceOnUse" x1="69.9" y1="342.7" x2="71.2" y2="351.4" href="#dg"/><linearGradient id="d7" gradientUnits="userSpaceOnUse" x1="377.1" y1="346.7" x2="384.8" y2="347.7" href="#dg"/><linearGradient id="d34" gradientUnits="userSpaceOnUse" x1="118.4" y1="345.4" x2="115.7" y2="353.6" href="#dg"/><linearGradient id="d47" gradientUnits="userSpaceOnUse" x1="162.4" y1="347.6" x2="163.7" y2="356.1" href="#dg"/><linearGradient id="d49" gradientUnits="userSpaceOnUse" x1="480.4" y1="351.7" x2="472.9" y2="352.4" href="#dg"/><linearGradient id="d40" gradientUnits="userSpaceOnUse" x1="211.9" y1="350.4" x2="209.4" y2="358.4" href="#dg"/><linearGradient id="d41" gradientUnits="userSpaceOnUse" x1="256.9" y1="352.7" x2="258.2" y2="360.9" href="#dg"/><linearGradient id="d30" gradientUnits="userSpaceOnUse" x1="307.4" y1="355.4" x2="305.0" y2="363.3" href="#dg"/><linearGradient id="d28" gradientUnits="userSpaceOnUse" x1="353.5" y1="357.8" x2="354.9" y2="365.9" href="#dg"/><linearGradient id="d35" gradientUnits="userSpaceOnUse" x1="29.9" y1="359.0" x2="36.7" y2="365.2" href="#dg"/><linearGradient id="d84" gradientUnits="userSpaceOnUse" x1="405.0" y1="360.6" x2="402.8" y2="368.3" href="#dg"/><linearGradient id="d50" gradientUnits="userSpaceOnUse" x1="452.2" y1="363.1" x2="453.6" y2="370.9" href="#dg"/><linearGradient id="d81" gradientUnits="userSpaceOnUse" x1="125.0" y1="364.8" x2="132.4" y2="369.8" href="#dg"/><linearGradient id="d48" gradientUnits="userSpaceOnUse" x1="504.7" y1="365.9" x2="502.7" y2="373.4" href="#dg"/><linearGradient id="d24" gradientUnits="userSpaceOnUse" x1="222.2" y1="370.7" x2="230.2" y2="374.4" href="#dg"/><linearGradient id="d29" gradientUnits="userSpaceOnUse" x1="321.8" y1="377.0" x2="330.1" y2="378.9" href="#dg"/><linearGradient id="d82" gradientUnits="userSpaceOnUse" x1="44.5" y1="376.1" x2="41.1" y2="385.0" href="#dg"/><linearGradient id="d79" gradientUnits="userSpaceOnUse" x1="90.9" y1="378.6" x2="92.4" y2="387.9" href="#dg"/><linearGradient id="d68" gradientUnits="userSpaceOnUse" x1="423.8" y1="383.4" x2="432.1" y2="383.5" href="#dg"/><linearGradient id="d80" gradientUnits="userSpaceOnUse" x1="143.8" y1="381.8" x2="140.7" y2="390.5" href="#dg"/><linearGradient id="d25" gradientUnits="userSpaceOnUse" x1="191.5" y1="384.4" x2="193.0" y2="393.5" href="#dg"/><linearGradient id="d12" gradientUnits="userSpaceOnUse" x1="245.5" y1="387.6" x2="242.7" y2="396.2" href="#dg"/><linearGradient id="d13" gradientUnits="userSpaceOnUse" x1="294.4" y1="390.3" x2="296.0" y2="399.1" href="#dg"/><linearGradient id="d1" gradientUnits="userSpaceOnUse" x1="349.6" y1="393.5" x2="347.0" y2="402.0" href="#dg"/><linearGradient id="d0" gradientUnits="userSpaceOnUse" x1="399.8" y1="396.4" x2="401.4" y2="404.9" href="#dg"/><linearGradient id="d64" gradientUnits="userSpaceOnUse" x1="48.1" y1="398.0" x2="55.8" y2="404.1" href="#dg"/><linearGradient id="d11" gradientUnits="userSpaceOnUse" x1="456.2" y1="399.6" x2="453.8" y2="407.9" href="#dg"/><linearGradient id="d67" gradientUnits="userSpaceOnUse" x1="151.8" y1="404.8" x2="160.2" y2="409.5" href="#dg"/><linearGradient id="d14" gradientUnits="userSpaceOnUse" x1="258.1" y1="411.8" x2="267.0" y2="414.9" href="#dg"/><linearGradient id="d2" gradientUnits="userSpaceOnUse" x1="367.1" y1="419.2" x2="376.2" y2="420.4" href="#dg"/><linearGradient id="d63" gradientUnits="userSpaceOnUse" x1="65.2" y1="418.2" x2="61.3" y2="427.7" href="#dg"/><linearGradient id="d65" gradientUnits="userSpaceOnUse" x1="115.7" y1="421.1" x2="117.5" y2="431.2" href="#dg"/><linearGradient id="d66" gradientUnits="userSpaceOnUse" x1="173.9" y1="424.9" x2="170.4" y2="434.3" href="#dg"/><linearGradient id="d78" gradientUnits="userSpaceOnUse" x1="225.9" y1="428.0" x2="227.7" y2="437.7" href="#dg"/><linearGradient id="d43" gradientUnits="userSpaceOnUse" x1="285.4" y1="431.8" x2="282.2" y2="441.0" href="#dg"/><linearGradient id="d42" gradientUnits="userSpaceOnUse" x1="339.0" y1="435.0" x2="340.8" y2="444.5" href="#dg"/><linearGradient id="d54" gradientUnits="userSpaceOnUse" x1="69.8" y1="444.4" x2="78.7" y2="450.5" href="#dg"/><linearGradient id="d77" gradientUnits="userSpaceOnUse" x1="183.8" y1="452.5" x2="193.3" y2="456.9" href="#dg"/><linearGradient id="d55" gradientUnits="userSpaceOnUse" x1="90.1" y1="468.6" x2="85.5" y2="478.9" href="#dg"/><linearGradient id="d83" gradientUnits="userSpaceOnUse" x1="145.5" y1="472.2" x2="147.7" y2="483.1" href="#dg"/></defs>
<g><path d="M352.9,257.7 356.8,257.2 360.7,257.1 364.8,257.9 368.7,257.7 372.6,257.3 376.5,256.8 380.4,255.9 384.1,254.3 388.0,253.3 391.8,252.8 392.9,261.2 389.0,261.8 385.1,261.7 381.1,261.1 377.1,261.3 373.2,261.7 369.3,262.3 365.5,263.2 361.8,265.0 357.9,265.9 354.0,266.4Z" fill="url(#d27)"/><path d="M430.9,261.0 427.1,260.2 423.3,259.8 419.3,260.1 415.4,259.7 411.6,259.0 407.9,258.1 404.2,256.9 400.7,254.9 397.1,253.7 393.3,252.8 391.5,261.2 395.2,262.0 399.1,262.4 403.1,262.1 406.9,262.5 410.7,263.3 414.4,264.2 418.1,265.4 421.6,267.3 425.3,268.6 429.0,269.4Z" fill="url(#d71)"/><path d="M348.8,261.0 348.3,262.3 347.7,263.6 347.0,264.9 346.2,266.2 345.2,267.4 345.6,269.0 345.8,270.5 345.7,271.9 345.6,273.4 345.4,274.8 354.9,277.1 355.4,275.7 355.9,274.4 356.6,273.1 357.4,271.8 358.4,270.6 358.1,269.0 357.9,267.5 357.9,266.0 358.0,264.6 358.1,263.2Z" fill="url(#d26)"/><path d="M425.3,265.1 425.1,266.5 424.8,267.9 424.4,269.3 423.9,270.7 423.2,272.1 423.9,273.6 424.4,275.0 424.7,276.4 424.8,277.8 425.0,279.2 434.5,279.4 434.6,278.0 434.9,276.6 435.2,275.2 435.7,273.8 436.4,272.4 435.8,270.9 435.3,269.5 435.0,268.1 434.8,266.7 434.6,265.3Z" fill="url(#d72)"/><path d="M271.4,268.0 267.2,268.5 263.0,269.6 258.9,271.4 254.6,272.3 250.4,273.0 246.1,273.4 241.8,273.5 237.3,272.7 233.0,272.8 228.8,273.3 230.0,282.9 234.3,282.3 238.5,281.3 242.6,279.4 246.8,278.4 251.0,277.8 255.3,277.3 259.6,277.1 264.0,277.8 268.4,277.8 272.6,277.2Z" fill="url(#d15)"/><path d="M309.5,277.0 305.9,276.1 302.2,275.2 298.3,275.7 294.5,275.4 290.8,274.6 287.2,273.6 283.7,272.2 280.4,269.8 276.8,269.0 273.1,268.1 270.9,277.1 274.5,278.0 278.2,278.9 282.2,278.4 285.9,278.8 289.6,279.5 293.2,280.6 296.7,282.0 300.0,284.4 303.6,285.2 307.3,286.1Z" fill="url(#d4)"/><path d="M307.8,276.9 311.9,276.3 316.2,276.2 320.5,277.0 324.8,276.8 329.0,276.4 333.1,275.7 337.3,274.8 341.3,273.1 345.4,271.9 349.6,271.4 350.8,280.5 346.6,281.0 342.4,281.0 338.0,280.4 333.8,280.6 329.6,281.1 325.4,281.8 321.3,282.8 317.3,284.6 313.2,285.7 309.0,286.2Z" fill="url(#d5)"/><path d="M389.9,280.5 386.0,279.6 382.1,279.0 377.9,279.4 373.9,279.0 370.1,278.2 366.2,277.1 362.4,275.8 358.9,273.6 355.1,272.4 351.2,271.5 349.1,280.4 353.0,281.3 356.9,281.9 361.1,281.5 365.1,282.0 369.0,282.8 372.8,283.8 376.6,285.2 380.1,287.4 383.9,288.6 387.8,289.5Z" fill="url(#d19)"/><path d="M388.2,280.5 392.3,279.9 396.4,279.8 400.7,280.5 404.8,280.3 409.0,279.9 413.0,279.2 417.1,278.3 421.0,276.6 425.0,275.4 429.1,274.9 430.3,283.8 426.3,284.3 422.1,284.3 417.8,283.8 413.7,284.0 409.6,284.5 405.5,285.2 401.5,286.2 397.6,288.0 393.6,289.1 389.5,289.6Z" fill="url(#d20)"/><path d="M471.7,284.2 467.6,283.3 463.4,282.9 459.0,283.1 454.9,282.6 450.7,281.7 446.6,280.7 442.6,279.5 438.8,277.4 434.8,275.9 430.7,274.9 428.7,283.7 432.8,284.6 437.1,284.9 441.4,284.7 445.6,285.3 449.7,286.2 453.8,287.2 457.8,288.5 461.7,290.6 465.6,292.1 469.7,293.0Z" fill="url(#d32)"/><path d="M225.0,275.6 224.0,277.1 222.9,278.5 221.8,279.8 220.4,281.1 219.4,282.5 218.8,284.2 218.3,285.9 217.6,287.6 216.9,289.2 216.2,290.8 225.3,295.9 226.2,294.5 227.3,293.0 228.4,291.7 229.6,290.3 230.7,289.0 231.4,287.3 231.8,285.5 232.4,283.9 233.1,282.2 233.8,280.6Z" fill="url(#d69)"/><path d="M303.6,279.9 302.9,281.4 302.2,282.9 301.3,284.3 300.2,285.7 299.2,287.1 299.2,288.8 299.1,290.5 298.9,292.2 298.5,293.8 298.1,295.4 307.9,298.8 308.5,297.3 309.3,295.8 310.1,294.3 311.1,292.9 312.1,291.6 312.2,289.8 312.2,288.1 312.4,286.4 312.8,284.8 313.1,283.2Z" fill="url(#d3)"/><path d="M92.3,290.5 97.0,289.9 101.8,289.8 106.7,290.7 111.4,290.6 116.1,290.1 120.8,289.4 125.5,288.4 130.0,286.5 134.6,285.2 139.3,284.6 140.6,294.8 135.9,295.4 131.1,295.4 126.3,294.7 121.5,294.9 116.8,295.4 112.1,296.1 107.5,297.2 103.0,299.3 98.4,300.4 93.7,301.0Z" fill="url(#d22)"/><path d="M383.9,284.4 383.6,286.0 383.1,287.5 382.6,289.1 381.8,290.6 381.1,292.1 381.5,293.7 381.8,295.4 381.9,297.0 381.9,298.6 381.8,300.2 391.9,301.5 392.2,299.9 392.6,298.4 393.1,296.8 393.7,295.3 394.5,293.8 394.2,292.2 393.9,290.5 393.7,288.9 393.7,287.3 393.7,285.7Z" fill="url(#d21)"/><path d="M176.1,294.5 172.6,293.5 169.2,292.5 165.4,292.7 161.7,292.5 158.1,291.7 154.7,290.5 151.5,288.8 148.3,286.7 144.8,285.7 141.3,284.8 138.5,294.6 142.0,295.6 145.5,296.6 149.3,296.5 153.0,296.7 156.5,297.5 159.9,298.7 163.2,300.5 166.3,302.6 169.8,303.6 173.3,304.6Z" fill="url(#d38)"/><path d="M174.0,294.4 178.6,293.8 183.3,293.6 188.1,294.5 192.7,294.3 197.4,293.8 201.9,293.1 206.5,292.1 210.9,290.2 215.4,289.0 220.0,288.4 221.4,298.3 216.8,299.0 212.1,299.0 207.3,298.3 202.7,298.5 198.1,299.0 193.5,299.8 188.9,300.9 184.5,303.0 180.0,304.1 175.4,304.7Z" fill="url(#d39)"/><path d="M475.5,288.2 475.8,289.7 476.2,291.3 476.6,292.9 477.3,294.5 477.7,296.1 477.5,297.7 477.2,299.4 477.1,301.0 477.1,302.6 477.1,304.3 467.3,305.2 467.1,303.6 466.7,302.0 466.3,300.4 465.8,298.8 465.2,297.2 465.4,295.6 465.7,293.9 465.9,292.3 466.0,290.7 466.0,289.0Z" fill="url(#d31)"/><path d="M259.2,298.4 255.5,297.4 251.8,296.4 247.7,296.8 243.8,296.5 240.0,295.7 236.4,294.5 232.8,292.9 229.5,290.5 225.7,289.5 222.0,288.5 219.4,298.2 223.1,299.2 226.8,300.2 230.9,299.8 234.8,300.2 238.6,301.1 242.3,302.2 245.8,303.9 249.1,306.3 252.9,307.3 256.6,308.3Z" fill="url(#d70)"/><path d="M302.3,292.2 297.8,292.8 293.4,294.0 289.0,295.9 284.6,297.0 280.1,297.7 275.6,298.2 271.0,298.4 266.3,297.6 261.7,297.7 257.2,298.3 258.6,308.4 263.1,307.8 267.6,306.7 271.9,304.6 276.3,303.5 280.8,302.8 285.3,302.2 289.9,302.0 294.6,302.6 299.2,302.6 303.7,302.0Z" fill="url(#d9)"/><path d="M304.2,292.3 308.2,293.3 312.1,294.5 315.7,297.0 319.6,298.5 323.5,299.6 327.5,300.5 331.6,301.0 336.0,300.5 340.0,301.4 344.0,302.4 341.5,312.1 337.5,311.1 333.6,310.0 330.0,307.4 326.1,305.9 322.2,304.7 318.2,303.8 314.1,303.3 309.7,303.8 305.7,302.9 301.8,301.8Z" fill="url(#d10)"/><path d="M342.0,302.3 346.4,301.7 350.9,301.5 355.5,302.3 360.0,302.1 364.4,301.6 368.8,300.9 373.2,299.8 377.4,298.0 381.7,296.7 386.1,296.1 387.5,305.6 383.1,306.3 378.6,306.3 374.0,305.7 369.6,306.0 365.1,306.6 360.7,307.3 356.4,308.4 352.2,310.5 347.9,311.6 343.5,312.2Z" fill="url(#d74)"/><path d="M89.0,292.1 87.4,293.7 85.8,295.3 84.1,296.8 82.4,298.4 81.1,300.3 79.2,301.6 77.9,303.5 76.6,305.3 75.1,307.0 73.7,308.8 82.1,316.4 83.7,314.7 85.3,313.1 86.9,311.6 88.7,310.1 89.8,308.1 91.5,306.6 92.9,304.8 94.2,302.9 95.6,301.2 97.1,299.4Z" fill="url(#d23)"/><path d="M430.4,306.5 426.1,305.5 421.8,304.9 417.2,305.2 412.9,304.6 408.6,303.6 404.4,302.5 400.2,301.1 396.3,298.7 392.2,297.2 388.0,296.2 385.7,305.5 389.9,306.6 394.3,307.1 398.8,306.9 403.1,307.5 407.4,308.5 411.6,309.6 415.7,311.1 419.7,313.5 423.8,315.0 428.0,316.0Z" fill="url(#d85)"/><path d="M471.5,300.0 467.2,300.7 463.0,301.9 458.9,303.8 454.6,304.8 450.3,305.6 446.0,306.1 441.6,306.3 437.1,305.6 432.8,305.8 428.4,306.4 429.9,316.1 434.2,315.5 438.5,314.3 442.6,312.3 446.8,311.2 451.1,310.4 455.4,309.8 459.8,309.6 464.2,310.1 468.6,310.0 472.9,309.4Z" fill="url(#d57)"/><path d="M170.2,296.5 169.0,298.1 167.6,299.8 166.2,301.3 164.7,302.7 163.7,304.6 162.4,306.2 161.5,308.1 160.5,310.0 159.5,311.7 158.4,313.5 167.7,319.8 168.9,318.2 170.2,316.5 171.6,314.9 173.1,313.5 174.1,311.6 175.4,310.0 176.2,308.1 177.1,306.2 178.1,304.4 179.2,302.6Z" fill="url(#d37)"/><path d="M473.3,300.1 477.8,301.2 482.1,303.1 486.4,305.2 490.8,306.6 495.3,307.7 499.9,308.7 504.4,309.4 509.2,309.4 513.9,309.6 518.4,310.7 516.2,320.0 511.7,318.9 507.4,317.1 503.2,314.9 498.7,313.5 494.2,312.3 489.7,311.3 485.1,310.6 480.4,310.6 475.7,310.4 471.2,309.3Z" fill="url(#d56)"/><path d="M244.9,318.5 245.6,316.7 246.2,314.9 246.8,313.1 247.2,311.1 247.9,309.3 248.7,307.6 250.0,306.1 251.1,304.5 252.1,302.8 253.0,301.1 262.8,305.6 262.1,307.4 261.5,309.2 261.0,311.1 260.7,313.1 259.9,314.9 259.0,316.6 257.8,318.1 256.8,319.8 255.8,321.4 254.9,323.2Z" fill="url(#d58)"/><path d="M77.1,307.0 72.1,307.7 67.1,309.1 62.2,311.2 57.1,312.3 52.0,313.1 46.9,313.7 41.8,313.8 36.4,312.9 31.3,313.0 26.2,313.7 27.7,325.1 32.8,324.5 37.8,323.2 42.7,320.9 47.7,319.7 52.8,318.9 57.9,318.3 63.1,318.0 68.4,318.8 73.5,318.8 78.6,318.1Z" fill="url(#d75)"/><path d="M337.6,306.1 337.0,307.8 336.4,309.5 335.6,311.3 334.7,312.9 334.1,314.6 333.9,316.5 333.9,318.4 333.8,320.2 333.5,322.0 333.2,323.9 343.8,326.4 344.3,324.6 344.9,322.9 345.6,321.2 346.5,319.5 347.2,317.8 347.4,315.9 347.3,314.0 347.4,312.2 347.6,310.3 347.9,308.5Z" fill="url(#d73)"/><path d="M114.8,318.3 111.3,317.1 107.8,316.0 104.0,315.8 100.1,315.7 96.5,314.8 93.1,313.5 89.8,311.5 86.6,309.4 83.1,308.3 79.6,307.2 76.2,317.9 79.7,319.0 83.3,320.1 87.1,320.3 90.9,320.5 94.5,321.4 97.9,322.8 101.1,324.8 104.4,326.9 107.9,328.0 111.4,329.1Z" fill="url(#d18)"/><path d="M112.3,318.0 117.3,317.3 122.4,317.2 127.6,318.1 132.7,317.9 137.7,317.3 142.7,316.6 147.6,315.4 152.4,313.3 157.3,311.9 162.3,311.2 163.8,322.1 158.8,322.8 153.7,322.8 148.5,322.1 143.5,322.4 138.5,323.0 133.5,323.8 128.6,325.0 123.8,327.3 118.9,328.6 113.9,329.3Z" fill="url(#d17)"/><path d="M423.6,329.4 423.5,327.5 423.4,325.7 423.1,323.9 422.7,322.1 422.6,320.3 422.8,318.4 423.3,316.6 423.6,314.8 423.9,313.0 424.1,311.2 434.3,311.4 434.4,313.2 434.6,315.0 434.9,316.8 435.4,318.7 435.5,320.5 435.3,322.3 434.8,324.1 434.5,325.9 434.3,327.7 434.2,329.5Z" fill="url(#d61)"/><path d="M164.6,311.4 168.4,312.5 172.2,313.7 175.6,316.1 179.2,318.0 182.9,319.3 186.8,320.2 190.8,320.6 195.0,320.4 198.8,321.5 202.6,322.7 199.4,333.3 195.6,332.2 191.8,331.1 188.4,328.6 184.9,326.7 181.1,325.3 177.3,324.4 173.3,324.0 169.1,324.2 165.3,323.0 161.5,321.9Z" fill="url(#d62)"/><path d="M249.1,315.5 244.2,316.3 239.5,317.6 234.8,319.7 229.9,320.9 225.1,321.7 220.1,322.2 215.2,322.4 210.1,321.6 205.1,321.8 200.2,322.5 201.8,333.5 206.7,332.8 211.5,331.5 216.2,329.2 221.0,328.0 225.9,327.2 230.8,326.5 235.7,326.3 240.8,326.9 245.8,326.9 250.7,326.1Z" fill="url(#d59)"/><path d="M526.1,332.9 525.8,331.0 525.6,329.1 525.4,327.2 525.4,325.3 524.8,323.5 524.6,321.6 523.8,319.8 523.2,318.0 522.7,316.2 522.2,314.4 512.5,316.3 512.7,318.2 513.0,320.1 513.1,322.0 513.0,323.9 513.6,325.8 513.8,327.7 514.5,329.4 515.1,331.2 515.6,333.1 516.1,334.9Z" fill="url(#d44)"/><path d="M292.2,327.2 288.1,326.0 284.0,324.9 279.5,325.3 275.2,324.8 271.1,323.8 267.1,322.5 263.2,320.7 259.5,318.0 255.4,316.8 251.4,315.7 248.4,326.0 252.5,327.2 256.6,328.3 261.1,327.9 265.4,328.4 269.5,329.4 273.5,330.8 277.4,332.6 281.1,335.3 285.1,336.5 289.2,337.6Z" fill="url(#d51)"/><path d="M289.9,327.0 294.7,326.3 299.5,326.1 304.5,326.9 309.4,326.7 314.2,326.1 319.0,325.2 323.7,324.1 328.2,322.0 332.9,320.7 337.7,319.9 339.3,330.3 334.5,331.0 329.6,331.1 324.6,330.5 319.8,330.8 315.0,331.5 310.2,332.3 305.5,333.5 301.0,335.8 296.3,337.0 291.5,337.8Z" fill="url(#d52)"/><path d="M22.8,315.2 20.9,317.1 18.8,318.9 16.8,320.7 15.2,322.9 13.4,325.0 11.1,326.4 9.0,328.1 7.2,330.1 5.3,332.1 3.4,334.0 12.1,342.8 14.0,340.9 16.0,339.1 18.0,337.3 19.8,335.2 21.3,332.9 23.4,331.2 25.6,329.6 27.4,327.5 29.2,325.5 31.1,323.6Z" fill="url(#d76)"/><path d="M383.6,331.8 379.2,330.6 374.8,329.7 370.0,330.1 365.5,329.4 361.1,328.4 356.7,327.1 352.5,325.4 348.5,322.7 344.2,321.2 339.9,320.0 337.1,330.2 341.5,331.3 346.0,332.2 350.7,331.9 355.2,332.6 359.6,333.7 364.0,335.0 368.2,336.7 372.2,339.4 376.5,340.8 380.9,342.0Z" fill="url(#d8)"/><path d="M381.4,331.7 386.1,330.9 390.8,330.7 395.7,331.4 400.4,331.2 405.1,330.5 409.8,329.7 414.4,328.6 418.8,326.5 423.4,325.1 428.1,324.4 429.7,334.5 425.0,335.3 420.3,335.4 415.4,334.8 410.7,335.1 406.0,335.8 401.3,336.7 396.7,337.9 392.3,340.1 387.7,341.4 383.1,342.1Z" fill="url(#d6)"/><path d="M108.6,320.1 107.0,321.9 105.3,323.8 103.6,325.6 102.0,327.5 100.7,329.6 98.7,331.2 97.3,333.2 96.0,335.3 94.5,337.3 93.0,339.3 102.5,346.8 104.1,344.9 105.8,343.1 107.4,341.2 109.1,339.4 110.2,337.1 111.9,335.3 113.5,333.4 114.8,331.3 116.2,329.3 117.7,327.3Z" fill="url(#d16)"/><path d="M430.2,324.5 434.8,325.7 439.3,327.6 443.7,330.1 448.3,331.7 452.9,333.0 457.6,334.1 462.4,334.9 467.4,334.8 472.3,335.3 477.0,336.5 474.4,346.5 469.7,345.3 465.2,343.4 460.9,340.9 456.3,339.3 451.6,338.0 446.9,336.9 442.1,336.0 437.1,336.1 432.3,335.6 427.6,334.4Z" fill="url(#d60)"/><path d="M520.3,329.0 515.7,329.7 511.3,331.1 507.0,333.1 502.5,334.3 498.0,335.1 493.4,335.8 488.8,336.1 484.0,335.4 479.4,335.6 474.8,336.4 476.5,346.6 481.1,345.8 485.5,344.6 489.8,342.4 494.3,341.1 498.8,340.3 503.4,339.6 508.0,339.2 512.7,339.7 517.4,339.6 521.9,338.8Z" fill="url(#d45)"/><path d="M184.5,344.8 185.6,342.8 186.6,340.8 187.5,338.7 188.3,336.5 189.8,334.7 190.7,332.6 192.1,330.8 193.5,329.0 194.8,327.1 196.0,325.2 206.0,330.8 205.0,332.9 204.0,334.9 203.1,337.1 202.3,339.2 200.9,341.1 200.2,343.2 198.7,345.0 197.4,346.9 196.1,348.8 194.9,350.8Z" fill="url(#d46)"/><path d="M285.4,330.5 284.5,332.5 283.6,334.5 282.6,336.4 281.5,338.3 280.9,340.3 280.1,342.3 279.7,344.5 279.3,346.6 278.7,348.7 278.1,350.7 289.2,354.6 290.0,352.6 290.8,350.6 291.8,348.7 292.9,346.8 293.4,344.7 294.3,342.7 294.5,340.5 294.9,338.4 295.4,336.3 296.0,334.3Z" fill="url(#d53)"/><path d="M45.3,345.2 41.8,343.9 38.2,342.6 34.5,342.0 30.5,341.9 26.8,340.9 23.4,339.4 20.2,337.1 16.9,335.1 13.3,333.9 9.8,332.7 5.7,344.2 9.2,345.4 12.8,346.7 16.6,347.3 20.5,347.5 24.2,348.5 27.6,350.1 30.7,352.5 34.1,354.4 37.6,355.6 41.2,356.9Z" fill="url(#d36)"/><path d="M96.9,337.2 91.5,337.9 86.1,339.5 80.9,341.8 75.5,343.1 70.1,344.0 64.6,344.6 59.1,344.8 53.4,343.9 47.8,344.1 42.4,344.9 44.1,357.2 49.6,356.4 55.0,355.0 60.2,352.4 65.5,351.1 71.0,350.1 76.4,349.4 82.0,349.1 87.6,349.8 93.2,349.8 98.6,349.0Z" fill="url(#d33)"/><path d="M376.8,336.2 376.4,338.3 375.9,340.3 375.3,342.3 374.6,344.3 374.5,346.4 374.1,348.5 374.2,350.6 374.2,352.7 374.1,354.8 373.9,356.9 385.3,358.3 385.6,356.2 386.1,354.2 386.6,352.2 387.2,350.1 387.4,348.1 387.8,346.0 387.6,343.9 387.5,341.8 387.6,339.7 387.7,337.6Z" fill="url(#d7)"/><path d="M99.7,337.4 103.5,338.7 107.4,339.9 110.9,342.4 114.4,344.6 118.2,346.1 122.2,347.1 126.4,347.4 130.6,347.6 134.4,348.9 138.3,350.2 134.4,361.7 130.6,360.4 126.7,359.1 123.2,356.7 119.7,354.5 115.9,352.9 112.0,351.9 107.9,351.5 103.6,351.3 99.8,350.0 95.9,348.7Z" fill="url(#d34)"/><path d="M188.9,342.0 183.5,342.8 178.3,344.4 173.2,346.7 167.9,347.9 162.6,348.9 157.2,349.5 151.8,349.8 146.2,348.9 140.8,349.1 135.5,349.9 137.3,361.9 142.6,361.1 147.9,359.7 152.9,357.2 158.2,355.8 163.5,354.9 168.9,354.2 174.3,353.8 179.8,354.5 185.3,354.4 190.6,353.6Z" fill="url(#d47)"/><path d="M483.2,362.1 483.1,360.0 483.0,357.9 483.0,355.7 483.2,353.6 482.6,351.5 482.7,349.4 482.1,347.3 481.7,345.2 481.3,343.1 481.0,341.0 470.3,342.0 470.4,344.1 470.5,346.2 470.4,348.4 470.2,350.5 470.7,352.6 470.5,354.8 471.1,356.8 471.5,358.9 471.8,361.0 472.1,363.1Z" fill="url(#d49)"/><path d="M233.3,355.3 229.1,354.0 225.0,352.6 220.3,352.9 215.9,352.3 211.6,351.2 207.5,349.7 203.6,347.7 199.9,344.8 195.7,343.5 191.5,342.2 188.0,353.4 192.2,354.7 196.3,356.0 201.0,355.8 205.4,356.4 209.6,357.5 213.7,359.1 217.7,361.2 221.4,364.0 225.6,365.3 229.7,366.6Z" fill="url(#d40)"/><path d="M230.6,355.1 235.8,354.3 241.1,354.0 246.6,354.8 251.9,354.5 257.1,353.9 262.3,352.9 267.5,351.7 272.4,349.4 277.5,347.8 282.8,347.0 284.6,358.3 279.3,359.1 274.0,359.2 268.6,358.6 263.3,359.0 258.1,359.7 252.9,360.7 247.7,362.1 242.8,364.6 237.7,366.0 232.5,366.8Z" fill="url(#d41)"/><path d="M330.4,360.5 325.9,359.2 321.4,357.9 316.3,358.3 311.6,357.6 307.1,356.4 302.6,354.9 298.3,353.0 294.3,350.0 289.8,348.5 285.3,347.2 282.0,358.1 286.5,359.5 291.1,360.7 296.1,360.3 300.8,361.1 305.3,362.3 309.8,363.8 314.1,365.8 318.1,368.9 322.6,370.3 327.1,371.6Z" fill="url(#d30)"/><path d="M327.8,360.4 332.9,359.5 338.1,359.2 343.4,360.0 348.6,359.7 353.7,359.0 358.8,358.0 363.8,356.7 368.6,354.5 373.6,352.9 378.7,352.1 380.5,363.1 375.4,363.9 370.2,364.1 364.9,363.5 359.8,363.9 354.7,364.7 349.6,365.7 344.6,367.1 339.8,369.6 334.8,371.0 329.7,371.8Z" fill="url(#d28)"/><path d="M38.6,346.8 36.5,349.0 34.4,351.1 32.3,353.2 30.8,355.8 29.0,358.2 26.5,360.0 24.1,361.9 22.3,364.2 20.3,366.5 18.4,368.8 28.2,377.6 30.2,375.4 32.3,373.3 34.4,371.2 36.0,368.6 37.6,366.0 39.8,364.0 42.2,362.2 44.1,359.8 46.0,357.5 47.9,355.2Z" fill="url(#d35)"/><path d="M381.1,352.2 386.0,353.6 390.7,355.6 395.1,358.4 399.8,360.2 404.7,361.7 409.6,362.9 414.6,363.8 419.8,363.7 424.9,364.5 429.7,365.9 426.6,376.8 421.8,375.4 417.1,373.5 412.6,370.6 407.9,368.7 403.1,367.2 398.2,366.0 393.2,365.0 388.0,365.1 382.9,364.3 378.1,362.9Z" fill="url(#d84)"/><path d="M476.7,357.3 471.8,358.1 466.9,359.7 462.2,361.9 457.3,363.2 452.4,364.2 447.4,364.9 442.4,365.3 437.2,364.6 432.1,364.9 427.2,365.8 429.1,376.9 434.1,376.0 439.0,374.6 443.6,372.2 448.5,370.8 453.4,369.8 458.4,369.0 463.4,368.5 468.6,369.0 473.6,368.9 478.6,368.0Z" fill="url(#d50)"/><path d="M115.6,374.9 117.1,372.6 118.5,370.3 119.9,367.9 121.5,365.7 123.6,363.8 124.9,361.4 126.2,359.0 128.0,356.9 129.6,354.7 131.2,352.5 141.5,359.4 140.0,361.7 138.6,364.1 137.3,366.5 135.6,368.6 133.8,370.7 132.8,373.4 131.3,375.7 129.6,377.8 127.9,380.0 126.4,382.3Z" fill="url(#d81)"/><path d="M479.1,357.4 484.3,358.8 489.2,361.2 494.1,363.8 499.2,365.5 504.4,367.0 509.7,368.3 515.0,369.4 520.5,369.5 526.0,370.0 531.2,371.4 528.4,382.0 523.2,380.6 518.2,378.2 513.3,375.6 508.2,373.8 503.0,372.3 497.8,371.0 492.5,369.9 486.9,369.7 481.4,369.3 476.2,367.9Z" fill="url(#d48)"/><path d="M215.1,381.5 216.1,379.1 217.0,376.8 217.9,374.3 218.7,371.9 220.3,369.9 221.1,367.4 222.3,365.1 223.6,362.9 224.8,360.7 226.0,358.4 237.1,363.5 236.1,365.9 235.2,368.3 234.4,370.7 233.4,373.1 232.1,375.2 231.6,377.8 230.3,380.0 229.0,382.3 227.8,384.5 226.7,386.8Z" fill="url(#d24)"/><path d="M323.0,364.7 322.3,367.1 321.5,369.4 320.7,371.7 319.9,374.0 319.6,376.4 318.5,378.7 318.3,381.2 318.0,383.6 317.5,386.0 317.1,388.4 329.2,391.3 329.8,388.9 330.5,386.6 331.3,384.2 332.3,382.0 332.3,379.5 333.1,377.1 333.5,374.7 333.7,372.3 334.1,369.9 334.6,367.5Z" fill="url(#d29)"/><path d="M64.7,381.7 60.8,380.2 56.9,378.7 52.7,378.1 48.3,377.8 44.3,376.6 40.5,374.9 37.0,372.3 33.4,370.0 29.5,368.5 25.6,367.0 21.0,379.3 24.9,380.8 28.8,382.3 33.0,382.9 37.3,383.3 41.3,384.5 45.1,386.3 48.5,389.0 52.1,391.3 56.0,392.8 59.9,394.2Z" fill="url(#d82)"/><path d="M120.0,372.3 114.1,373.2 108.4,374.9 102.8,377.5 97.0,378.9 91.1,380.0 85.2,380.7 79.3,381.1 73.1,380.1 67.1,380.4 61.3,381.4 63.4,394.6 69.2,393.6 75.0,392.1 80.6,389.2 86.3,387.7 92.2,386.6 98.1,385.8 104.0,385.3 110.1,386.0 116.1,385.9 122.0,384.9Z" fill="url(#d79)"/><path d="M421.7,395.5 421.7,393.1 421.6,390.7 421.4,388.2 421.2,385.8 421.8,383.4 421.6,380.9 421.7,378.5 422.0,376.1 422.2,373.7 422.4,371.2 434.0,371.4 434.0,373.9 434.2,376.3 434.4,378.7 434.4,381.2 434.1,383.6 434.7,386.0 434.4,388.4 434.1,390.9 433.9,393.3 433.8,395.7Z" fill="url(#d68)"/><path d="M123.1,372.5 127.4,374.0 131.7,375.5 135.4,378.5 139.4,380.9 143.6,382.6 147.9,383.8 152.5,384.4 157.3,384.5 161.5,386.0 165.8,387.6 161.4,399.9 157.2,398.4 152.9,396.9 149.1,394.0 145.2,391.5 141.0,389.7 136.7,388.4 132.1,387.8 127.3,387.7 123.1,386.2 118.8,384.7Z" fill="url(#d80)"/><path d="M219.9,377.9 214.1,378.9 208.5,380.7 203.1,383.2 197.4,384.6 191.7,385.7 186.0,386.5 180.1,386.9 174.1,386.0 168.3,386.3 162.5,387.3 164.7,400.2 170.4,399.2 176.0,397.6 181.5,394.8 187.1,393.3 192.8,392.2 198.5,391.3 204.3,390.8 210.3,391.5 216.2,391.3 221.9,390.3Z" fill="url(#d25)"/><path d="M269.3,393.6 264.7,392.0 260.1,390.5 254.8,390.7 249.9,389.9 245.2,388.6 240.6,386.9 236.2,384.6 232.2,381.3 227.5,379.7 222.9,378.2 218.9,390.1 223.5,391.7 228.2,393.2 233.4,393.0 238.3,393.8 243.0,395.2 247.6,396.9 252.0,399.3 256.0,402.6 260.6,404.1 265.3,405.7Z" fill="url(#d12)"/><path d="M266.2,393.3 271.8,392.4 277.5,392.0 283.4,392.8 289.1,392.4 294.7,391.6 300.2,390.5 305.7,389.0 311.0,386.5 316.5,384.8 322.1,383.8 324.2,395.8 318.6,396.8 312.9,397.0 307.0,396.5 301.4,397.0 295.8,397.9 290.2,399.0 284.7,400.6 279.5,403.4 274.0,404.9 268.4,405.9Z" fill="url(#d13)"/><path d="M375.4,399.7 370.3,398.2 365.2,396.9 359.6,397.1 354.4,396.1 349.3,394.7 344.3,393.0 339.4,390.8 334.9,387.5 330.0,385.6 325.0,384.0 321.3,395.7 326.3,397.2 331.5,398.5 337.1,398.3 342.3,399.4 347.3,400.8 352.3,402.6 357.2,404.7 361.6,408.1 366.6,410.0 371.6,411.6Z" fill="url(#d1)"/><path d="M372.4,399.6 377.8,398.6 383.3,398.1 389.1,398.9 394.6,398.4 400.1,397.6 405.5,396.5 410.8,395.0 416.0,392.5 421.2,390.8 426.7,389.7 428.8,401.5 423.4,402.5 417.9,402.7 412.1,402.2 406.6,402.8 401.2,403.7 395.8,404.9 390.5,406.4 385.4,409.2 380.0,410.8 374.6,411.8Z" fill="url(#d0)"/><path d="M36.0,409.7 38.0,407.1 40.0,404.4 42.0,401.7 44.7,399.5 47.3,397.3 49.1,394.5 50.5,391.4 52.7,388.9 54.9,386.3 57.0,383.8 67.6,392.2 65.6,394.8 63.6,397.5 61.7,400.3 59.0,402.3 56.7,404.8 55.1,407.8 53.7,410.9 51.5,413.4 49.4,416.0 47.2,418.6Z" fill="url(#d64)"/><path d="M484.0,406.1 478.5,404.4 472.8,403.7 466.9,403.5 461.3,402.4 455.9,400.8 450.4,399.1 445.1,397.1 440.1,394.0 434.9,391.5 429.5,389.9 426.1,401.3 431.5,403.0 437.2,403.7 443.1,403.9 448.7,405.1 454.1,406.6 459.5,408.4 464.9,410.5 469.9,413.6 475.1,416.0 480.5,417.7Z" fill="url(#d11)"/><path d="M142.2,417.1 143.7,414.4 145.2,411.6 146.5,408.9 148.4,406.4 150.5,404.0 151.8,401.2 152.8,398.3 154.6,395.7 156.2,393.1 157.8,390.4 169.4,397.0 167.9,399.7 166.5,402.5 165.2,405.3 163.2,407.7 161.5,410.3 160.5,413.3 159.3,416.2 157.6,418.7 156.0,421.4 154.5,424.0Z" fill="url(#d67)"/><path d="M261.2,397.5 260.1,400.2 259.0,402.9 257.8,405.6 257.1,408.4 256.4,411.3 254.8,413.8 253.8,416.5 253.0,419.3 252.2,422.1 251.3,424.9 264.2,429.4 265.2,426.7 266.3,423.9 267.4,421.3 268.3,418.5 268.6,415.5 269.8,412.8 271.1,410.2 271.8,407.4 272.6,404.6 273.5,401.8Z" fill="url(#d14)"/><path d="M367.2,404.9 366.7,407.7 366.2,410.5 365.6,413.3 365.6,416.1 365.5,419.0 364.5,421.7 364.0,424.5 363.8,427.4 363.6,430.2 363.3,433.0 376.5,434.7 376.9,431.9 377.4,429.1 378.0,426.3 378.2,423.5 377.9,420.6 378.5,417.8 379.2,415.0 379.3,412.1 379.5,409.3 379.8,406.5Z" fill="url(#d2)"/><path d="M44.3,407.5 48.6,409.3 53.0,411.0 56.8,413.9 60.7,416.8 64.9,418.8 69.4,420.2 74.2,420.8 79.0,421.4 83.3,423.2 87.6,425.0 82.1,438.5 77.8,436.7 73.5,435.0 69.6,432.1 65.8,429.2 61.6,427.1 57.1,425.6 52.4,424.9 47.6,424.3 43.3,422.5 38.9,420.8Z" fill="url(#d63)"/><path d="M147.1,413.7 140.8,414.8 134.6,416.8 128.6,419.7 122.3,421.3 116.0,422.6 109.6,423.5 103.1,423.9 96.4,423.0 90.0,423.4 83.6,424.6 86.1,438.9 92.5,437.8 98.7,436.0 104.7,432.8 110.9,431.0 117.2,429.7 123.6,428.7 130.0,428.1 136.7,428.8 143.2,428.5 149.6,427.4Z" fill="url(#d65)"/><path d="M150.8,414.1 155.6,415.8 160.3,417.6 164.5,421.1 168.9,423.8 173.6,425.8 178.4,427.4 183.6,428.2 188.9,428.3 193.7,430.1 198.5,432.0 193.4,445.2 188.7,443.4 183.9,441.6 179.8,438.2 175.4,435.4 170.7,433.3 165.9,431.7 160.8,430.8 155.4,430.7 150.6,428.9 145.9,427.1Z" fill="url(#d66)"/><path d="M194.6,431.6 200.8,430.5 207.1,430.0 213.7,430.8 220.0,430.3 226.2,429.4 232.4,428.1 238.4,426.5 244.3,423.6 250.3,421.6 256.5,420.5 259.0,433.8 252.8,435.0 246.5,435.2 240.0,434.7 233.7,435.3 227.5,436.4 221.3,437.7 215.3,439.5 209.5,442.6 203.4,444.4 197.2,445.6Z" fill="url(#d78)"/><path d="M312.2,439.1 307.0,437.3 301.8,435.4 295.8,435.7 290.3,434.6 285.0,432.9 279.9,430.9 274.9,428.4 270.4,424.5 265.2,422.6 260.0,420.7 255.5,433.5 260.7,435.4 265.9,437.2 271.8,437.0 277.3,438.1 282.6,439.8 287.7,441.9 292.7,444.5 297.1,448.4 302.3,450.3 307.6,452.1Z" fill="url(#d43)"/><path d="M308.5,438.9 314.5,437.7 320.7,437.1 327.1,437.9 333.2,437.4 339.2,436.4 345.2,435.1 351.1,433.4 356.8,430.6 362.6,428.6 368.6,427.4 371.2,440.3 365.2,441.5 359.0,441.9 352.7,441.4 346.6,442.1 340.6,443.1 334.6,444.5 328.7,446.3 323.1,449.4 317.2,451.2 311.2,452.4Z" fill="url(#d42)"/><path d="M57.1,458.7 59.2,455.6 61.2,452.4 63.3,449.2 66.4,446.7 69.1,444.0 71.0,440.7 72.1,436.8 74.4,433.8 76.6,430.7 78.8,427.6 91.0,435.9 88.9,439.0 86.8,442.2 84.9,445.5 81.7,447.9 79.3,450.9 77.8,454.5 76.6,458.2 74.4,461.3 72.2,464.4 70.0,467.5Z" fill="url(#d54)"/><path d="M189.4,435.6 187.9,438.8 186.3,442.0 184.6,445.1 184.0,448.7 182.8,452.1 180.6,455.0 178.4,457.9 177.0,461.2 175.6,464.4 174.2,467.7 188.1,474.0 189.6,470.8 191.2,467.6 192.8,464.5 193.5,460.9 194.3,457.4 196.1,454.3 198.4,451.4 199.7,448.1 201.1,444.8 202.5,441.6Z" fill="url(#d77)"/><path d="M66.7,456.0 71.5,458.1 76.4,460.2 80.6,463.8 85.0,467.0 89.7,469.4 94.7,471.2 100.1,472.1 105.5,472.8 110.4,475.0 115.2,477.1 108.8,491.7 104.0,489.6 99.1,487.5 94.9,483.9 90.6,480.6 85.9,478.1 80.9,476.2 75.6,475.2 70.1,474.6 65.3,472.4 60.4,470.3Z" fill="url(#d55)"/><path d="M179.7,463.4 172.8,464.8 166.1,467.1 159.5,470.3 152.7,472.2 145.8,473.7 138.9,474.9 131.8,475.5 124.5,474.6 117.4,475.2 110.5,476.6 113.6,492.2 120.5,490.8 127.3,488.8 133.7,485.2 140.5,483.1 147.4,481.5 154.3,480.3 161.3,479.5 168.6,480.0 175.7,479.6 182.6,478.3Z" fill="url(#d83)"/></g>
<g><circle cx="392.4" cy="257.0" r="6.9" fill="url(#atomd)"/><circle cx="392.4" cy="257.0" r="6.9" fill="url(#hl)"/><circle cx="353.5" cy="262.1" r="7.1" fill="url(#atomd)"/><circle cx="353.5" cy="262.1" r="7.1" fill="url(#hl)"/><circle cx="430.0" cy="265.2" r="6.9" fill="url(#atomd)"/><circle cx="430.0" cy="265.2" r="6.9" fill="url(#hl)"/><circle cx="272.0" cy="272.6" r="7.5" fill="url(#atomd)"/><circle cx="272.0" cy="272.6" r="7.5" fill="url(#hl)"/><circle cx="350.2" cy="275.9" r="7.4" fill="url(#atomd)"/><circle cx="350.2" cy="275.9" r="7.4" fill="url(#hl)"/><circle cx="229.4" cy="278.1" r="7.8" fill="url(#atomd)"/><circle cx="229.4" cy="278.1" r="7.8" fill="url(#hl)"/><circle cx="429.7" cy="279.3" r="7.2" fill="url(#atomd)"/><circle cx="429.7" cy="279.3" r="7.2" fill="url(#hl)"/><circle cx="308.4" cy="281.5" r="7.6" fill="url(#atomd)"/><circle cx="308.4" cy="281.5" r="7.6" fill="url(#hl)"/><circle cx="388.8" cy="285.0" r="7.5" fill="url(#atomd)"/><circle cx="388.8" cy="285.0" r="7.5" fill="url(#hl)"/><circle cx="470.7" cy="288.6" r="7.3" fill="url(#atomd)"/><circle cx="470.7" cy="288.6" r="7.3" fill="url(#hl)"/><circle cx="139.9" cy="289.7" r="8.3" fill="url(#atomd)"/><circle cx="139.9" cy="289.7" r="8.3" fill="url(#hl)"/><circle cx="220.7" cy="293.3" r="8.1" fill="url(#atomd)"/><circle cx="220.7" cy="293.3" r="8.1" fill="url(#hl)"/><circle cx="93.0" cy="295.8" r="8.6" fill="url(#atomd)"/><circle cx="93.0" cy="295.8" r="8.6" fill="url(#hl)"/><circle cx="303.0" cy="297.1" r="8.0" fill="url(#atomd)"/><circle cx="303.0" cy="297.1" r="8.0" fill="url(#hl)"/><circle cx="174.7" cy="299.5" r="8.4" fill="url(#atomd)"/><circle cx="174.7" cy="299.5" r="8.4" fill="url(#hl)"/><circle cx="386.8" cy="300.9" r="7.8" fill="url(#atomd)"/><circle cx="386.8" cy="300.9" r="7.8" fill="url(#hl)"/><circle cx="257.9" cy="303.4" r="8.2" fill="url(#atomd)"/><circle cx="257.9" cy="303.4" r="8.2" fill="url(#hl)"/><circle cx="472.2" cy="304.7" r="7.6" fill="url(#atomd)"/><circle cx="472.2" cy="304.7" r="7.6" fill="url(#hl)"/><circle cx="342.7" cy="307.3" r="8.1" fill="url(#atomd)"/><circle cx="342.7" cy="307.3" r="8.1" fill="url(#hl)"/><circle cx="429.2" cy="311.3" r="7.9" fill="url(#atomd)"/><circle cx="429.2" cy="311.3" r="7.9" fill="url(#hl)"/><circle cx="77.9" cy="312.6" r="9.0" fill="url(#atomd)"/><circle cx="77.9" cy="312.6" r="9.0" fill="url(#hl)"/><circle cx="517.3" cy="315.3" r="7.7" fill="url(#atomd)"/><circle cx="517.3" cy="315.3" r="7.7" fill="url(#hl)"/><circle cx="163.1" cy="316.7" r="8.8" fill="url(#atomd)"/><circle cx="163.1" cy="316.7" r="8.8" fill="url(#hl)"/><circle cx="27.0" cy="319.4" r="9.3" fill="url(#atomd)"/><circle cx="27.0" cy="319.4" r="9.3" fill="url(#hl)"/><circle cx="249.9" cy="320.8" r="8.6" fill="url(#atomd)"/><circle cx="249.9" cy="320.8" r="8.6" fill="url(#hl)"/><circle cx="113.1" cy="323.7" r="9.1" fill="url(#atomd)"/><circle cx="113.1" cy="323.7" r="9.1" fill="url(#hl)"/><circle cx="338.5" cy="325.1" r="8.5" fill="url(#atomd)"/><circle cx="338.5" cy="325.1" r="8.5" fill="url(#hl)"/><circle cx="201.0" cy="328.0" r="9.0" fill="url(#atomd)"/><circle cx="201.0" cy="328.0" r="9.0" fill="url(#hl)"/><circle cx="428.9" cy="329.5" r="8.3" fill="url(#atomd)"/><circle cx="428.9" cy="329.5" r="8.3" fill="url(#hl)"/><circle cx="290.7" cy="332.4" r="8.8" fill="url(#atomd)"/><circle cx="290.7" cy="332.4" r="8.8" fill="url(#hl)"/><circle cx="521.1" cy="333.9" r="8.1" fill="url(#atomd)"/><circle cx="521.1" cy="333.9" r="8.1" fill="url(#hl)"/><circle cx="382.2" cy="336.9" r="8.6" fill="url(#atomd)"/><circle cx="382.2" cy="336.9" r="8.6" fill="url(#hl)"/><circle cx="7.7" cy="338.4" r="9.8" fill="url(#atomd)"/><circle cx="7.7" cy="338.4" r="9.8" fill="url(#hl)"/><circle cx="475.7" cy="341.5" r="8.4" fill="url(#atomd)"/><circle cx="475.7" cy="341.5" r="8.4" fill="url(#hl)"/><circle cx="97.8" cy="343.1" r="9.6" fill="url(#atomd)"/><circle cx="97.8" cy="343.1" r="9.6" fill="url(#hl)"/><circle cx="189.7" cy="347.8" r="9.4" fill="url(#atomd)"/><circle cx="189.7" cy="347.8" r="9.4" fill="url(#hl)"/><circle cx="43.3" cy="351.0" r="10.0" fill="url(#atomd)"/><circle cx="43.3" cy="351.0" r="10.0" fill="url(#hl)"/><circle cx="283.7" cy="352.6" r="9.2" fill="url(#atomd)"/><circle cx="283.7" cy="352.6" r="9.2" fill="url(#hl)"/><circle cx="136.4" cy="355.9" r="9.8" fill="url(#atomd)"/><circle cx="136.4" cy="355.9" r="9.8" fill="url(#hl)"/><circle cx="379.6" cy="357.6" r="9.0" fill="url(#atomd)"/><circle cx="379.6" cy="357.6" r="9.0" fill="url(#hl)"/><circle cx="231.5" cy="361.0" r="9.6" fill="url(#atomd)"/><circle cx="231.5" cy="361.0" r="9.6" fill="url(#hl)"/><circle cx="477.6" cy="362.6" r="8.8" fill="url(#atomd)"/><circle cx="477.6" cy="362.6" r="8.8" fill="url(#hl)"/><circle cx="328.8" cy="366.1" r="9.4" fill="url(#atomd)"/><circle cx="328.8" cy="366.1" r="9.4" fill="url(#hl)"/><circle cx="428.2" cy="371.3" r="9.1" fill="url(#atomd)"/><circle cx="428.2" cy="371.3" r="9.1" fill="url(#hl)"/><circle cx="23.3" cy="373.2" r="10.6" fill="url(#atomd)"/><circle cx="23.3" cy="373.2" r="10.6" fill="url(#hl)"/><circle cx="529.8" cy="376.7" r="8.9" fill="url(#atomd)"/><circle cx="529.8" cy="376.7" r="8.9" fill="url(#hl)"/><circle cx="121.0" cy="378.6" r="10.4" fill="url(#atomd)"/><circle cx="121.0" cy="378.6" r="10.4" fill="url(#hl)"/><circle cx="220.9" cy="384.1" r="10.1" fill="url(#atomd)"/><circle cx="220.9" cy="384.1" r="10.1" fill="url(#hl)"/><circle cx="62.3" cy="388.0" r="10.8" fill="url(#atomd)"/><circle cx="62.3" cy="388.0" r="10.8" fill="url(#hl)"/><circle cx="323.1" cy="389.8" r="9.9" fill="url(#atomd)"/><circle cx="323.1" cy="389.8" r="9.9" fill="url(#hl)"/><circle cx="163.6" cy="393.7" r="10.6" fill="url(#atomd)"/><circle cx="163.6" cy="393.7" r="10.6" fill="url(#hl)"/><circle cx="427.8" cy="395.6" r="9.6" fill="url(#atomd)"/><circle cx="427.8" cy="395.6" r="9.6" fill="url(#hl)"/><circle cx="267.3" cy="399.6" r="10.3" fill="url(#atomd)"/><circle cx="267.3" cy="399.6" r="10.3" fill="url(#hl)"/><circle cx="373.5" cy="405.7" r="10.0" fill="url(#atomd)"/><circle cx="373.5" cy="405.7" r="10.0" fill="url(#hl)"/><circle cx="482.2" cy="411.9" r="9.8" fill="url(#atomd)"/><circle cx="482.2" cy="411.9" r="9.8" fill="url(#hl)"/><circle cx="41.6" cy="414.1" r="11.5" fill="url(#atomd)"/><circle cx="41.6" cy="414.1" r="11.5" fill="url(#hl)"/><circle cx="148.3" cy="420.6" r="11.2" fill="url(#atomd)"/><circle cx="148.3" cy="420.6" r="11.2" fill="url(#hl)"/><circle cx="257.7" cy="427.1" r="10.9" fill="url(#atomd)"/><circle cx="257.7" cy="427.1" r="10.9" fill="url(#hl)"/><circle cx="84.9" cy="431.7" r="11.7" fill="url(#atomd)"/><circle cx="84.9" cy="431.7" r="11.7" fill="url(#hl)"/><circle cx="369.9" cy="433.9" r="10.6" fill="url(#atomd)"/><circle cx="369.9" cy="433.9" r="10.6" fill="url(#hl)"/><circle cx="195.9" cy="438.6" r="11.4" fill="url(#atomd)"/><circle cx="195.9" cy="438.6" r="11.4" fill="url(#hl)"/><circle cx="309.9" cy="445.6" r="11.1" fill="url(#atomd)"/><circle cx="309.9" cy="445.6" r="11.1" fill="url(#hl)"/><circle cx="63.5" cy="463.1" r="12.6" fill="url(#atomd)"/><circle cx="63.5" cy="463.1" r="12.6" fill="url(#hl)"/><circle cx="181.2" cy="470.8" r="12.2" fill="url(#atomd)"/><circle cx="181.2" cy="470.8" r="12.2" fill="url(#hl)"/><circle cx="112.0" cy="484.4" r="12.8" fill="url(#atomd)"/><circle cx="112.0" cy="484.4" r="12.8" fill="url(#hl)"/></g>
</g></g>
<polygon points="678,130.4 901,130.4 789.5,306.7" fill="url(#vcone)"/>
<polygon points="790,308.3 680,482 900,482" fill="url(#ccone)"/>
<line x1="592.3" y1="307.6" x2="988.9" y2="307.6" stroke="#111" stroke-width="2.4" stroke-dasharray="7.4 4.1"/>
<polyline points="803.5,288.5 842.5,288.5 842.5,325.5 803.5,325.5" fill="none" stroke="#e3161d" stroke-width="3.5"/>
</svg>
</body></html>
